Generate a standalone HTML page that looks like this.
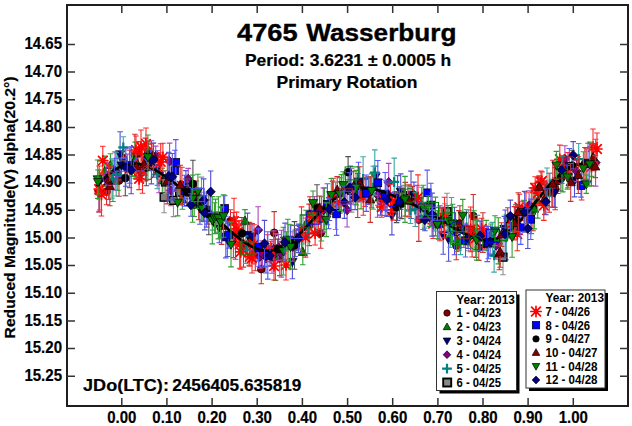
<!DOCTYPE html>
<html><head><meta charset="utf-8"><style>
html,body{margin:0;padding:0;background:#fff;overflow:hidden;}
svg{display:block;}
text{font-family:"Liberation Sans",sans-serif;font-weight:bold;fill:#000;}
</style></head><body>
<svg width="632" height="426" viewBox="0 0 632 426">
<rect width="632" height="426" fill="#fff"/>
<g><path d="M106.6 178.7V204.8M103.8 178.7h5.6M103.8 204.8h5.6" stroke="#d03030" stroke-width="1.1"/>
<circle cx="106.6" cy="191.7" r="3.90" fill="#800000" stroke="#000" stroke-width=".7"/>
<path d="M119.0 164.8V196.3M116.2 164.8h5.6M116.2 196.3h5.6" stroke="#d03030" stroke-width="1.1"/>
<circle cx="119.0" cy="180.5" r="3.90" fill="#800000" stroke="#000" stroke-width=".7"/>
<path d="M122.6 147.6V167.8M119.8 147.6h5.6M119.8 167.8h5.6" stroke="#d03030" stroke-width="1.1"/>
<circle cx="122.6" cy="157.7" r="3.90" fill="#800000" stroke="#000" stroke-width=".7"/>
<path d="M134.9 134.3V175.8M132.1 134.3h5.6M132.1 175.8h5.6" stroke="#d03030" stroke-width="1.1"/>
<circle cx="134.9" cy="155.0" r="3.90" fill="#800000" stroke="#000" stroke-width=".7"/>
<path d="M138.7 141.6V165.0M135.9 141.6h5.6M135.9 165.0h5.6" stroke="#d03030" stroke-width="1.1"/>
<circle cx="138.7" cy="153.3" r="3.90" fill="#800000" stroke="#000" stroke-width=".7"/>
<path d="M141.4 163.3V182.0M138.6 163.3h5.6M138.6 182.0h5.6" stroke="#d03030" stroke-width="1.1"/>
<circle cx="141.4" cy="172.6" r="3.90" fill="#800000" stroke="#000" stroke-width=".7"/>
<path d="M145.4 138.1V181.0M142.6 138.1h5.6M142.6 181.0h5.6" stroke="#d03030" stroke-width="1.1"/>
<circle cx="145.4" cy="159.6" r="3.90" fill="#800000" stroke="#000" stroke-width=".7"/>
<path d="M196.3 181.0V208.3M193.5 181.0h5.6M193.5 208.3h5.6" stroke="#d03030" stroke-width="1.1"/>
<circle cx="196.3" cy="194.7" r="3.90" fill="#800000" stroke="#000" stroke-width=".7"/>
<path d="M198.7 190.9V219.7M195.9 190.9h5.6M195.9 219.7h5.6" stroke="#d03030" stroke-width="1.1"/>
<circle cx="198.7" cy="205.3" r="3.90" fill="#800000" stroke="#000" stroke-width=".7"/>
<path d="M207.6 200.0V224.1M204.8 200.0h5.6M204.8 224.1h5.6" stroke="#d03030" stroke-width="1.1"/>
<circle cx="207.6" cy="212.1" r="3.90" fill="#800000" stroke="#000" stroke-width=".7"/>
<path d="M230.5 209.7V232.8M227.7 209.7h5.6M227.7 232.8h5.6" stroke="#d03030" stroke-width="1.1"/>
<circle cx="230.5" cy="221.2" r="3.90" fill="#800000" stroke="#000" stroke-width=".7"/>
<path d="M243.5 225.0V267.1M240.7 225.0h5.6M240.7 267.1h5.6" stroke="#d03030" stroke-width="1.1"/>
<circle cx="243.5" cy="246.1" r="3.90" fill="#800000" stroke="#000" stroke-width=".7"/>
<path d="M249.1 222.4V265.2M246.3 222.4h5.6M246.3 265.2h5.6" stroke="#d03030" stroke-width="1.1"/>
<circle cx="249.1" cy="243.8" r="3.90" fill="#800000" stroke="#000" stroke-width=".7"/>
<path d="M250.8 223.2V258.4M248.0 223.2h5.6M248.0 258.4h5.6" stroke="#d03030" stroke-width="1.1"/>
<circle cx="250.8" cy="240.8" r="3.90" fill="#800000" stroke="#000" stroke-width=".7"/>
<path d="M255.3 232.6V270.7M252.5 232.6h5.6M252.5 270.7h5.6" stroke="#d03030" stroke-width="1.1"/>
<circle cx="255.3" cy="251.7" r="3.90" fill="#800000" stroke="#000" stroke-width=".7"/>
<path d="M261.3 254.3V283.8M258.5 254.3h5.6M258.5 283.8h5.6" stroke="#d03030" stroke-width="1.1"/>
<circle cx="261.3" cy="269.1" r="3.90" fill="#800000" stroke="#000" stroke-width=".7"/>
<path d="M274.2 211.6V254.1M271.4 211.6h5.6M271.4 254.1h5.6" stroke="#d03030" stroke-width="1.1"/>
<circle cx="274.2" cy="232.8" r="3.90" fill="#800000" stroke="#000" stroke-width=".7"/>
<path d="M279.8 241.2V275.6M277.0 241.2h5.6M277.0 275.6h5.6" stroke="#d03030" stroke-width="1.1"/>
<circle cx="279.8" cy="258.4" r="3.90" fill="#800000" stroke="#000" stroke-width=".7"/>
<path d="M309.2 204.1V245.6M306.4 204.1h5.6M306.4 245.6h5.6" stroke="#d03030" stroke-width="1.1"/>
<circle cx="309.2" cy="224.9" r="3.90" fill="#800000" stroke="#000" stroke-width=".7"/>
<path d="M309.9 196.8V231.0M307.1 196.8h5.6M307.1 231.0h5.6" stroke="#d03030" stroke-width="1.1"/>
<circle cx="309.9" cy="213.9" r="3.90" fill="#800000" stroke="#000" stroke-width=".7"/>
<path d="M320.7 218.0V248.2M317.9 218.0h5.6M317.9 248.2h5.6" stroke="#d03030" stroke-width="1.1"/>
<circle cx="320.7" cy="233.1" r="3.90" fill="#800000" stroke="#000" stroke-width=".7"/>
<path d="M332.6 181.1V210.3M329.8 181.1h5.6M329.8 210.3h5.6" stroke="#d03030" stroke-width="1.1"/>
<circle cx="332.6" cy="195.7" r="3.90" fill="#800000" stroke="#000" stroke-width=".7"/>
<path d="M357.7 173.5V217.5M354.9 173.5h5.6M354.9 217.5h5.6" stroke="#d03030" stroke-width="1.1"/>
<circle cx="357.7" cy="195.5" r="3.90" fill="#800000" stroke="#000" stroke-width=".7"/>
<path d="M412.5 186.4V210.5M409.7 186.4h5.6M409.7 210.5h5.6" stroke="#d03030" stroke-width="1.1"/>
<circle cx="412.5" cy="198.5" r="3.90" fill="#800000" stroke="#000" stroke-width=".7"/>
<path d="M418.8 197.7V241.4M416.0 197.7h5.6M416.0 241.4h5.6" stroke="#d03030" stroke-width="1.1"/>
<circle cx="418.8" cy="219.6" r="3.90" fill="#800000" stroke="#000" stroke-width=".7"/>
<path d="M456.3 231.3V259.7M453.5 231.3h5.6M453.5 259.7h5.6" stroke="#d03030" stroke-width="1.1"/>
<circle cx="456.3" cy="245.5" r="3.90" fill="#800000" stroke="#000" stroke-width=".7"/>
<path d="M458.9 210.6V250.1M456.1 210.6h5.6M456.1 250.1h5.6" stroke="#d03030" stroke-width="1.1"/>
<circle cx="458.9" cy="230.4" r="3.90" fill="#800000" stroke="#000" stroke-width=".7"/>
<path d="M459.9 205.8V241.3M457.1 205.8h5.6M457.1 241.3h5.6" stroke="#d03030" stroke-width="1.1"/>
<circle cx="459.9" cy="223.5" r="3.90" fill="#800000" stroke="#000" stroke-width=".7"/>
<path d="M472.1 212.5V257.0M469.3 212.5h5.6M469.3 257.0h5.6" stroke="#d03030" stroke-width="1.1"/>
<circle cx="472.1" cy="234.7" r="3.90" fill="#800000" stroke="#000" stroke-width=".7"/>
<path d="M473.3 194.5V237.6M470.5 194.5h5.6M470.5 237.6h5.6" stroke="#d03030" stroke-width="1.1"/>
<circle cx="473.3" cy="216.1" r="3.90" fill="#800000" stroke="#000" stroke-width=".7"/>
<path d="M478.8 234.9V260.4M476.0 234.9h5.6M476.0 260.4h5.6" stroke="#d03030" stroke-width="1.1"/>
<circle cx="478.8" cy="247.6" r="3.90" fill="#800000" stroke="#000" stroke-width=".7"/>
<path d="M482.9 212.7V252.5M480.1 212.7h5.6M480.1 252.5h5.6" stroke="#d03030" stroke-width="1.1"/>
<circle cx="482.9" cy="232.6" r="3.90" fill="#800000" stroke="#000" stroke-width=".7"/>
<path d="M507.8 207.7V228.7M505.0 207.7h5.6M505.0 228.7h5.6" stroke="#d03030" stroke-width="1.1"/>
<circle cx="507.8" cy="218.2" r="3.90" fill="#800000" stroke="#000" stroke-width=".7"/>
<path d="M533.0 183.3V230.7M530.2 183.3h5.6M530.2 230.7h5.6" stroke="#d03030" stroke-width="1.1"/>
<circle cx="533.0" cy="207.0" r="3.90" fill="#800000" stroke="#000" stroke-width=".7"/>
<path d="M549.2 173.3V212.3M546.4 173.3h5.6M546.4 212.3h5.6" stroke="#d03030" stroke-width="1.1"/>
<circle cx="549.2" cy="192.8" r="3.90" fill="#800000" stroke="#000" stroke-width=".7"/>
<path d="M551.9 179.2V207.0M549.1 179.2h5.6M549.1 207.0h5.6" stroke="#d03030" stroke-width="1.1"/>
<circle cx="551.9" cy="193.1" r="3.90" fill="#800000" stroke="#000" stroke-width=".7"/>
<path d="M555.2 167.6V209.8M552.4 167.6h5.6M552.4 209.8h5.6" stroke="#d03030" stroke-width="1.1"/>
<circle cx="555.2" cy="188.7" r="3.90" fill="#800000" stroke="#000" stroke-width=".7"/>
<path d="M557.8 168.7V193.5M555.0 168.7h5.6M555.0 193.5h5.6" stroke="#d03030" stroke-width="1.1"/>
<circle cx="557.8" cy="181.1" r="3.90" fill="#800000" stroke="#000" stroke-width=".7"/>
<path d="M581.7 171.0V200.0M578.9 171.0h5.6M578.9 200.0h5.6" stroke="#d03030" stroke-width="1.1"/>
<circle cx="581.7" cy="185.5" r="3.90" fill="#800000" stroke="#000" stroke-width=".7"/>
<path d="M584.9 147.5V179.9M582.1 147.5h5.6M582.1 179.9h5.6" stroke="#d03030" stroke-width="1.1"/>
<circle cx="584.9" cy="163.7" r="3.90" fill="#800000" stroke="#000" stroke-width=".7"/>
<path d="M148.0 142.0V162.0M145.2 142.0h5.6M145.2 162.0h5.6" stroke="#d03030" stroke-width="1.1"/>
<circle cx="148.0" cy="152.0" r="3.90" fill="#800000" stroke="#000" stroke-width=".7"/>
<path d="M104.7 156.1V186.6M101.9 156.1h5.6M101.9 186.6h5.6" stroke="#30a030" stroke-width="1.1"/>
<path d="M104.7 166.6L109.3 174.8H100.1Z" fill="#008000" stroke="#000" stroke-width=".7"/>
<path d="M110.4 153.8V176.4M107.6 153.8h5.6M107.6 176.4h5.6" stroke="#30a030" stroke-width="1.1"/>
<path d="M110.4 160.3L115.0 168.5H105.8Z" fill="#008000" stroke="#000" stroke-width=".7"/>
<path d="M112.9 160.7V201.5M110.1 160.7h5.6M110.1 201.5h5.6" stroke="#30a030" stroke-width="1.1"/>
<path d="M112.9 176.3L117.5 184.5H108.3Z" fill="#008000" stroke="#000" stroke-width=".7"/>
<path d="M117.8 153.1V190.4M115.0 153.1h5.6M115.0 190.4h5.6" stroke="#30a030" stroke-width="1.1"/>
<path d="M117.8 167.0L122.4 175.2H113.2Z" fill="#008000" stroke="#000" stroke-width=".7"/>
<path d="M132.5 151.9V176.5M129.7 151.9h5.6M129.7 176.5h5.6" stroke="#30a030" stroke-width="1.1"/>
<path d="M132.5 159.4L137.1 167.6H127.9Z" fill="#008000" stroke="#000" stroke-width=".7"/>
<path d="M135.2 142.1V178.2M132.4 142.1h5.6M132.4 178.2h5.6" stroke="#30a030" stroke-width="1.1"/>
<path d="M135.2 155.3L139.8 163.5H130.6Z" fill="#008000" stroke="#000" stroke-width=".7"/>
<path d="M162.3 168.3V192.7M159.5 168.3h5.6M159.5 192.7h5.6" stroke="#30a030" stroke-width="1.1"/>
<path d="M162.3 175.7L166.9 183.9H157.7Z" fill="#008000" stroke="#000" stroke-width=".7"/>
<path d="M182.4 190.1V209.3M179.6 190.1h5.6M179.6 209.3h5.6" stroke="#30a030" stroke-width="1.1"/>
<path d="M182.4 194.9L187.0 203.1H177.8Z" fill="#008000" stroke="#000" stroke-width=".7"/>
<path d="M194.2 193.7V216.5M191.4 193.7h5.6M191.4 216.5h5.6" stroke="#30a030" stroke-width="1.1"/>
<path d="M194.2 200.3L198.8 208.5H189.6Z" fill="#008000" stroke="#000" stroke-width=".7"/>
<path d="M245.0 209.6V232.3M242.2 209.6h5.6M242.2 232.3h5.6" stroke="#30a030" stroke-width="1.1"/>
<path d="M245.0 216.1L249.6 224.3H240.4Z" fill="#008000" stroke="#000" stroke-width=".7"/>
<path d="M275.5 233.6V280.4M272.7 233.6h5.6M272.7 280.4h5.6" stroke="#30a030" stroke-width="1.1"/>
<path d="M275.5 252.2L280.1 260.4H270.9Z" fill="#008000" stroke="#000" stroke-width=".7"/>
<path d="M302.8 239.4V264.7M300.0 239.4h5.6M300.0 264.7h5.6" stroke="#30a030" stroke-width="1.1"/>
<path d="M302.8 247.2L307.4 255.4H298.2Z" fill="#008000" stroke="#000" stroke-width=".7"/>
<path d="M306.0 210.2V237.6M303.2 210.2h5.6M303.2 237.6h5.6" stroke="#30a030" stroke-width="1.1"/>
<path d="M306.0 219.1L310.6 227.3H301.4Z" fill="#008000" stroke="#000" stroke-width=".7"/>
<path d="M321.4 196.8V241.0M318.6 196.8h5.6M318.6 241.0h5.6" stroke="#30a030" stroke-width="1.1"/>
<path d="M321.4 214.1L326.0 222.3H316.8Z" fill="#008000" stroke="#000" stroke-width=".7"/>
<path d="M324.4 187.9V229.7M321.6 187.9h5.6M321.6 229.7h5.6" stroke="#30a030" stroke-width="1.1"/>
<path d="M324.4 204.0L329.0 212.2H319.8Z" fill="#008000" stroke="#000" stroke-width=".7"/>
<path d="M341.4 174.6V212.0M338.6 174.6h5.6M338.6 212.0h5.6" stroke="#30a030" stroke-width="1.1"/>
<path d="M341.4 188.5L346.0 196.7H336.8Z" fill="#008000" stroke="#000" stroke-width=".7"/>
<path d="M345.6 173.0V206.9M342.8 173.0h5.6M342.8 206.9h5.6" stroke="#30a030" stroke-width="1.1"/>
<path d="M345.6 185.2L350.2 193.4H341.0Z" fill="#008000" stroke="#000" stroke-width=".7"/>
<path d="M361.1 178.9V208.9M358.3 178.9h5.6M358.3 208.9h5.6" stroke="#30a030" stroke-width="1.1"/>
<path d="M361.1 189.1L365.7 197.3H356.5Z" fill="#008000" stroke="#000" stroke-width=".7"/>
<path d="M368.2 176.9V204.5M365.4 176.9h5.6M365.4 204.5h5.6" stroke="#30a030" stroke-width="1.1"/>
<path d="M368.2 185.9L372.8 194.1H363.6Z" fill="#008000" stroke="#000" stroke-width=".7"/>
<path d="M379.4 184.4V211.0M376.6 184.4h5.6M376.6 211.0h5.6" stroke="#30a030" stroke-width="1.1"/>
<path d="M379.4 192.9L384.0 201.1H374.8Z" fill="#008000" stroke="#000" stroke-width=".7"/>
<path d="M435.5 197.1V235.9M432.7 197.1h5.6M432.7 235.9h5.6" stroke="#30a030" stroke-width="1.1"/>
<path d="M435.5 211.7L440.1 219.9H430.9Z" fill="#008000" stroke="#000" stroke-width=".7"/>
<path d="M456.8 228.1V251.5M454.0 228.1h5.6M454.0 251.5h5.6" stroke="#30a030" stroke-width="1.1"/>
<path d="M456.8 235.0L461.4 243.2H452.2Z" fill="#008000" stroke="#000" stroke-width=".7"/>
<path d="M474.0 210.8V251.2M471.2 210.8h5.6M471.2 251.2h5.6" stroke="#30a030" stroke-width="1.1"/>
<path d="M474.0 226.2L478.6 234.4H469.4Z" fill="#008000" stroke="#000" stroke-width=".7"/>
<path d="M486.2 220.4V250.7M483.4 220.4h5.6M483.4 250.7h5.6" stroke="#30a030" stroke-width="1.1"/>
<path d="M486.2 230.8L490.8 239.0H481.6Z" fill="#008000" stroke="#000" stroke-width=".7"/>
<path d="M490.9 224.0V245.0M488.1 224.0h5.6M488.1 245.0h5.6" stroke="#30a030" stroke-width="1.1"/>
<path d="M490.9 229.7L495.5 237.9H486.3Z" fill="#008000" stroke="#000" stroke-width=".7"/>
<path d="M498.3 217.7V263.9M495.5 217.7h5.6M495.5 263.9h5.6" stroke="#30a030" stroke-width="1.1"/>
<path d="M498.3 236.0L502.9 244.2H493.7Z" fill="#008000" stroke="#000" stroke-width=".7"/>
<path d="M531.3 187.9V233.6M528.5 187.9h5.6M528.5 233.6h5.6" stroke="#30a030" stroke-width="1.1"/>
<path d="M531.3 206.0L535.9 214.2H526.7Z" fill="#008000" stroke="#000" stroke-width=".7"/>
<path d="M534.3 188.7V228.9M531.5 188.7h5.6M531.5 228.9h5.6" stroke="#30a030" stroke-width="1.1"/>
<path d="M534.3 204.0L538.9 212.2H529.7Z" fill="#008000" stroke="#000" stroke-width=".7"/>
<path d="M537.7 183.7V218.1M534.9 183.7h5.6M534.9 218.1h5.6" stroke="#30a030" stroke-width="1.1"/>
<path d="M537.7 196.1L542.3 204.3H533.1Z" fill="#008000" stroke="#000" stroke-width=".7"/>
<path d="M591.6 149.2V176.4M588.8 149.2h5.6M588.8 176.4h5.6" stroke="#30a030" stroke-width="1.1"/>
<path d="M591.6 158.0L596.2 166.2H587.0Z" fill="#008000" stroke="#000" stroke-width=".7"/>
<path d="M120.1 131.7V176.6M117.3 131.7h5.6M117.3 176.6h5.6" stroke="#5050d8" stroke-width="1.1"/>
<path d="M120.1 159.0L124.7 150.8H115.5Z" fill="#000080" stroke="#000" stroke-width=".7"/>
<path d="M121.5 150.7V179.9M118.7 150.7h5.6M118.7 179.9h5.6" stroke="#5050d8" stroke-width="1.1"/>
<path d="M121.5 170.1L126.1 161.9H116.9Z" fill="#000080" stroke="#000" stroke-width=".7"/>
<path d="M150.4 149.3V170.7M147.6 149.3h5.6M147.6 170.7h5.6" stroke="#5050d8" stroke-width="1.1"/>
<path d="M150.4 164.8L155.0 156.6H145.8Z" fill="#000080" stroke="#000" stroke-width=".7"/>
<path d="M151.4 140.8V183.9M148.6 140.8h5.6M148.6 183.9h5.6" stroke="#5050d8" stroke-width="1.1"/>
<path d="M151.4 167.1L156.0 158.9H146.8Z" fill="#000080" stroke="#000" stroke-width=".7"/>
<path d="M157.4 150.7V185.2M154.6 150.7h5.6M154.6 185.2h5.6" stroke="#5050d8" stroke-width="1.1"/>
<path d="M157.4 172.8L162.0 164.6H152.8Z" fill="#000080" stroke="#000" stroke-width=".7"/>
<path d="M185.9 170.6V198.9M183.1 170.6h5.6M183.1 198.9h5.6" stroke="#5050d8" stroke-width="1.1"/>
<path d="M185.9 189.6L190.5 181.4H181.3Z" fill="#000080" stroke="#000" stroke-width=".7"/>
<path d="M199.9 192.3V224.2M197.1 192.3h5.6M197.1 224.2h5.6" stroke="#5050d8" stroke-width="1.1"/>
<path d="M199.9 213.0L204.5 204.8H195.3Z" fill="#000080" stroke="#000" stroke-width=".7"/>
<path d="M219.3 212.2V242.8M216.5 212.2h5.6M216.5 242.8h5.6" stroke="#5050d8" stroke-width="1.1"/>
<path d="M219.3 232.3L223.9 224.1H214.7Z" fill="#000080" stroke="#000" stroke-width=".7"/>
<path d="M227.3 223.2V256.5M224.5 223.2h5.6M224.5 256.5h5.6" stroke="#5050d8" stroke-width="1.1"/>
<path d="M227.3 244.6L231.9 236.4H222.7Z" fill="#000080" stroke="#000" stroke-width=".7"/>
<path d="M235.5 216.9V259.3M232.7 216.9h5.6M232.7 259.3h5.6" stroke="#5050d8" stroke-width="1.1"/>
<path d="M235.5 242.9L240.1 234.7H230.9Z" fill="#000080" stroke="#000" stroke-width=".7"/>
<path d="M247.5 213.1V256.7M244.7 213.1h5.6M244.7 256.7h5.6" stroke="#5050d8" stroke-width="1.1"/>
<path d="M247.5 239.7L252.1 231.5H242.9Z" fill="#000080" stroke="#000" stroke-width=".7"/>
<path d="M252.1 223.6V249.9M249.3 223.6h5.6M249.3 249.9h5.6" stroke="#5050d8" stroke-width="1.1"/>
<path d="M252.1 241.5L256.7 233.3H247.5Z" fill="#000080" stroke="#000" stroke-width=".7"/>
<path d="M257.0 232.0V261.1M254.2 232.0h5.6M254.2 261.1h5.6" stroke="#5050d8" stroke-width="1.1"/>
<path d="M257.0 251.3L261.6 243.1H252.4Z" fill="#000080" stroke="#000" stroke-width=".7"/>
<path d="M266.0 243.2V273.0M263.2 243.2h5.6M263.2 273.0h5.6" stroke="#5050d8" stroke-width="1.1"/>
<path d="M266.0 262.9L270.6 254.7H261.4Z" fill="#000080" stroke="#000" stroke-width=".7"/>
<path d="M292.4 244.7V278.8M289.6 244.7h5.6M289.6 278.8h5.6" stroke="#5050d8" stroke-width="1.1"/>
<path d="M292.4 266.5L297.0 258.3H287.8Z" fill="#000080" stroke="#000" stroke-width=".7"/>
<path d="M296.7 228.9V250.7M293.9 228.9h5.6M293.9 250.7h5.6" stroke="#5050d8" stroke-width="1.1"/>
<path d="M296.7 244.6L301.3 236.4H292.1Z" fill="#000080" stroke="#000" stroke-width=".7"/>
<path d="M299.1 225.3V249.1M296.3 225.3h5.6M296.3 249.1h5.6" stroke="#5050d8" stroke-width="1.1"/>
<path d="M299.1 242.0L303.7 233.8H294.5Z" fill="#000080" stroke="#000" stroke-width=".7"/>
<path d="M328.6 197.6V228.8M325.8 197.6h5.6M325.8 228.8h5.6" stroke="#5050d8" stroke-width="1.1"/>
<path d="M328.6 218.0L333.2 209.8H324.0Z" fill="#000080" stroke="#000" stroke-width=".7"/>
<path d="M369.0 178.0V204.5M366.2 178.0h5.6M366.2 204.5h5.6" stroke="#5050d8" stroke-width="1.1"/>
<path d="M369.0 196.1L373.6 187.9H364.4Z" fill="#000080" stroke="#000" stroke-width=".7"/>
<path d="M375.5 166.1V187.7M372.7 166.1h5.6M372.7 187.7h5.6" stroke="#5050d8" stroke-width="1.1"/>
<path d="M375.5 181.7L380.1 173.5H370.9Z" fill="#000080" stroke="#000" stroke-width=".7"/>
<path d="M380.5 179.2V215.1M377.7 179.2h5.6M377.7 215.1h5.6" stroke="#5050d8" stroke-width="1.1"/>
<path d="M380.5 201.9L385.1 193.7H375.9Z" fill="#000080" stroke="#000" stroke-width=".7"/>
<path d="M391.9 196.2V234.9M389.1 196.2h5.6M389.1 234.9h5.6" stroke="#5050d8" stroke-width="1.1"/>
<path d="M391.9 220.4L396.5 212.2H387.3Z" fill="#000080" stroke="#000" stroke-width=".7"/>
<path d="M397.6 175.6V220.5M394.8 175.6h5.6M394.8 220.5h5.6" stroke="#5050d8" stroke-width="1.1"/>
<path d="M397.6 202.9L402.2 194.7H393.0Z" fill="#000080" stroke="#000" stroke-width=".7"/>
<path d="M400.7 173.9V209.4M397.9 173.9h5.6M397.9 209.4h5.6" stroke="#5050d8" stroke-width="1.1"/>
<path d="M400.7 196.4L405.3 188.2H396.1Z" fill="#000080" stroke="#000" stroke-width=".7"/>
<path d="M411.0 171.1V218.5M408.2 171.1h5.6M408.2 218.5h5.6" stroke="#5050d8" stroke-width="1.1"/>
<path d="M411.0 199.6L415.6 191.4H406.4Z" fill="#000080" stroke="#000" stroke-width=".7"/>
<path d="M413.9 182.1V209.1M411.1 182.1h5.6M411.1 209.1h5.6" stroke="#5050d8" stroke-width="1.1"/>
<path d="M413.9 200.4L418.5 192.2H409.3Z" fill="#000080" stroke="#000" stroke-width=".7"/>
<path d="M420.8 198.1V217.9M418.0 198.1h5.6M418.0 217.9h5.6" stroke="#5050d8" stroke-width="1.1"/>
<path d="M420.8 212.8L425.4 204.6H416.2Z" fill="#000080" stroke="#000" stroke-width=".7"/>
<path d="M443.2 216.1V254.2M440.4 216.1h5.6M440.4 254.2h5.6" stroke="#5050d8" stroke-width="1.1"/>
<path d="M443.2 239.9L447.8 231.7H438.6Z" fill="#000080" stroke="#000" stroke-width=".7"/>
<path d="M448.6 217.5V261.2M445.8 217.5h5.6M445.8 261.2h5.6" stroke="#5050d8" stroke-width="1.1"/>
<path d="M448.6 244.1L453.2 235.9H444.0Z" fill="#000080" stroke="#000" stroke-width=".7"/>
<path d="M454.5 207.2V254.8M451.7 207.2h5.6M451.7 254.8h5.6" stroke="#5050d8" stroke-width="1.1"/>
<path d="M454.5 235.8L459.1 227.6H449.9Z" fill="#000080" stroke="#000" stroke-width=".7"/>
<path d="M504.4 216.4V241.1M501.6 216.4h5.6M501.6 241.1h5.6" stroke="#5050d8" stroke-width="1.1"/>
<path d="M504.4 233.5L509.0 225.3H499.8Z" fill="#000080" stroke="#000" stroke-width=".7"/>
<path d="M554.7 177.7V207.4M551.9 177.7h5.6M551.9 207.4h5.6" stroke="#5050d8" stroke-width="1.1"/>
<path d="M554.7 197.3L559.3 189.1H550.1Z" fill="#000080" stroke="#000" stroke-width=".7"/>
<path d="M566.6 156.8V175.6M563.8 156.8h5.6M563.8 175.6h5.6" stroke="#5050d8" stroke-width="1.1"/>
<path d="M566.6 171.0L571.2 162.8H562.0Z" fill="#000080" stroke="#000" stroke-width=".7"/>
<path d="M574.5 163.9V196.9M571.7 163.9h5.6M571.7 196.9h5.6" stroke="#5050d8" stroke-width="1.1"/>
<path d="M574.5 185.2L579.1 177.0H569.9Z" fill="#000080" stroke="#000" stroke-width=".7"/>
<path d="M99.0 176.0V212.0M96.2 176.0h5.6M96.2 212.0h5.6" stroke="#5050d8" stroke-width="1.1"/>
<path d="M99.0 198.8L103.6 190.6H94.4Z" fill="#000080" stroke="#000" stroke-width=".7"/>
<path d="M106.1 162.6V195.0M103.3 162.6h5.6M103.3 195.0h5.6" stroke="#b048c0" stroke-width="1.1"/>
<path d="M106.1 174.0L110.7 178.8L106.1 183.6L101.5 178.8Z" fill="#800080" stroke="#000" stroke-width=".7"/>
<path d="M115.1 151.9V190.2M112.3 151.9h5.6M112.3 190.2h5.6" stroke="#b048c0" stroke-width="1.1"/>
<path d="M115.1 166.3L119.7 171.1L115.1 175.9L110.5 171.1Z" fill="#800080" stroke="#000" stroke-width=".7"/>
<path d="M127.3 154.1V179.3M124.5 154.1h5.6M124.5 179.3h5.6" stroke="#b048c0" stroke-width="1.1"/>
<path d="M127.3 161.9L131.9 166.7L127.3 171.5L122.7 166.7Z" fill="#800080" stroke="#000" stroke-width=".7"/>
<path d="M155.7 146.1V166.4M152.9 146.1h5.6M152.9 166.4h5.6" stroke="#b048c0" stroke-width="1.1"/>
<path d="M155.7 151.5L160.3 156.3L155.7 161.1L151.1 156.3Z" fill="#800080" stroke="#000" stroke-width=".7"/>
<path d="M159.0 152.7V192.7M156.2 152.7h5.6M156.2 192.7h5.6" stroke="#b048c0" stroke-width="1.1"/>
<path d="M159.0 167.9L163.6 172.7L159.0 177.5L154.4 172.7Z" fill="#800080" stroke="#000" stroke-width=".7"/>
<path d="M169.6 143.1V179.5M166.8 143.1h5.6M166.8 179.5h5.6" stroke="#b048c0" stroke-width="1.1"/>
<path d="M169.6 156.5L174.2 161.3L169.6 166.1L165.0 161.3Z" fill="#800080" stroke="#000" stroke-width=".7"/>
<path d="M170.9 175.2V205.8M168.1 175.2h5.6M168.1 205.8h5.6" stroke="#b048c0" stroke-width="1.1"/>
<path d="M170.9 185.7L175.5 190.5L170.9 195.3L166.3 190.5Z" fill="#800080" stroke="#000" stroke-width=".7"/>
<path d="M188.2 168.4V189.5M185.4 168.4h5.6M185.4 189.5h5.6" stroke="#b048c0" stroke-width="1.1"/>
<path d="M188.2 174.2L192.8 179.0L188.2 183.8L183.6 179.0Z" fill="#800080" stroke="#000" stroke-width=".7"/>
<path d="M258.1 206.7V253.5M255.3 206.7h5.6M255.3 253.5h5.6" stroke="#b048c0" stroke-width="1.1"/>
<path d="M258.1 225.3L262.7 230.1L258.1 234.9L253.5 230.1Z" fill="#800080" stroke="#000" stroke-width=".7"/>
<path d="M259.9 244.8V268.2M257.1 244.8h5.6M257.1 268.2h5.6" stroke="#b048c0" stroke-width="1.1"/>
<path d="M259.9 251.7L264.5 256.5L259.9 261.3L255.3 256.5Z" fill="#800080" stroke="#000" stroke-width=".7"/>
<path d="M262.5 240.9V267.0M259.7 240.9h5.6M259.7 267.0h5.6" stroke="#b048c0" stroke-width="1.1"/>
<path d="M262.5 249.2L267.1 254.0L262.5 258.8L257.9 254.0Z" fill="#800080" stroke="#000" stroke-width=".7"/>
<path d="M272.0 239.5V273.3M269.2 239.5h5.6M269.2 273.3h5.6" stroke="#b048c0" stroke-width="1.1"/>
<path d="M272.0 251.6L276.6 256.4L272.0 261.2L267.4 256.4Z" fill="#800080" stroke="#000" stroke-width=".7"/>
<path d="M273.7 230.9V267.8M270.9 230.9h5.6M270.9 267.8h5.6" stroke="#b048c0" stroke-width="1.1"/>
<path d="M273.7 244.5L278.3 249.3L273.7 254.1L269.1 249.3Z" fill="#800080" stroke="#000" stroke-width=".7"/>
<path d="M278.4 234.5V260.6M275.6 234.5h5.6M275.6 260.6h5.6" stroke="#b048c0" stroke-width="1.1"/>
<path d="M278.4 242.8L283.0 247.6L278.4 252.4L273.8 247.6Z" fill="#800080" stroke="#000" stroke-width=".7"/>
<path d="M281.4 230.3V277.1M278.6 230.3h5.6M278.6 277.1h5.6" stroke="#b048c0" stroke-width="1.1"/>
<path d="M281.4 248.9L286.0 253.7L281.4 258.5L276.8 253.7Z" fill="#800080" stroke="#000" stroke-width=".7"/>
<path d="M292.9 231.8V261.3M290.1 231.8h5.6M290.1 261.3h5.6" stroke="#b048c0" stroke-width="1.1"/>
<path d="M292.9 241.8L297.5 246.6L292.9 251.4L288.3 246.6Z" fill="#800080" stroke="#000" stroke-width=".7"/>
<path d="M314.5 196.5V232.3M311.7 196.5h5.6M311.7 232.3h5.6" stroke="#b048c0" stroke-width="1.1"/>
<path d="M314.5 209.6L319.1 214.4L314.5 219.2L309.9 214.4Z" fill="#800080" stroke="#000" stroke-width=".7"/>
<path d="M323.3 188.0V232.1M320.5 188.0h5.6M320.5 232.1h5.6" stroke="#b048c0" stroke-width="1.1"/>
<path d="M323.3 205.2L327.9 210.0L323.3 214.8L318.7 210.0Z" fill="#800080" stroke="#000" stroke-width=".7"/>
<path d="M347.1 193.1V227.0M344.3 193.1h5.6M344.3 227.0h5.6" stroke="#b048c0" stroke-width="1.1"/>
<path d="M347.1 205.2L351.7 210.0L347.1 214.8L342.5 210.0Z" fill="#800080" stroke="#000" stroke-width=".7"/>
<path d="M377.5 172.8V217.2M374.7 172.8h5.6M374.7 217.2h5.6" stroke="#b048c0" stroke-width="1.1"/>
<path d="M377.5 190.2L382.1 195.0L377.5 199.8L372.9 195.0Z" fill="#800080" stroke="#000" stroke-width=".7"/>
<path d="M388.7 163.4V201.2M385.9 163.4h5.6M385.9 201.2h5.6" stroke="#b048c0" stroke-width="1.1"/>
<path d="M388.7 177.5L393.3 182.3L388.7 187.1L384.1 182.3Z" fill="#800080" stroke="#000" stroke-width=".7"/>
<path d="M417.0 185.4V222.0M414.2 185.4h5.6M414.2 222.0h5.6" stroke="#b048c0" stroke-width="1.1"/>
<path d="M417.0 198.9L421.6 203.7L417.0 208.5L412.4 203.7Z" fill="#800080" stroke="#000" stroke-width=".7"/>
<path d="M463.8 213.2V247.4M461.0 213.2h5.6M461.0 247.4h5.6" stroke="#b048c0" stroke-width="1.1"/>
<path d="M463.8 225.5L468.4 230.3L463.8 235.1L459.2 230.3Z" fill="#800080" stroke="#000" stroke-width=".7"/>
<path d="M496.0 231.6V259.1M493.2 231.6h5.6M493.2 259.1h5.6" stroke="#b048c0" stroke-width="1.1"/>
<path d="M496.0 240.6L500.6 245.4L496.0 250.2L491.4 245.4Z" fill="#800080" stroke="#000" stroke-width=".7"/>
<path d="M529.1 190.7V219.9M526.3 190.7h5.6M526.3 219.9h5.6" stroke="#b048c0" stroke-width="1.1"/>
<path d="M529.1 200.5L533.7 205.3L529.1 210.1L524.5 205.3Z" fill="#800080" stroke="#000" stroke-width=".7"/>
<path d="M564.9 145.8V172.5M562.1 145.8h5.6M562.1 172.5h5.6" stroke="#b048c0" stroke-width="1.1"/>
<path d="M564.9 154.3L569.5 159.1L564.9 163.9L560.3 159.1Z" fill="#800080" stroke="#000" stroke-width=".7"/>
<path d="M576.6 160.6V181.6M573.8 160.6h5.6M573.8 181.6h5.6" stroke="#b048c0" stroke-width="1.1"/>
<path d="M576.6 166.3L581.2 171.1L576.6 175.9L572.0 171.1Z" fill="#800080" stroke="#000" stroke-width=".7"/>
<path d="M595.6 139.2V186.1M592.8 139.2h5.6M592.8 186.1h5.6" stroke="#b048c0" stroke-width="1.1"/>
<path d="M595.6 157.8L600.2 162.6L595.6 167.4L591.0 162.6Z" fill="#800080" stroke="#000" stroke-width=".7"/>
<path d="M112.0 158.9V198.2M109.2 158.9h5.6M109.2 198.2h5.6" stroke="#38a8a8" stroke-width="1.1"/>
<path d="M107.0 178.5H117.0M112.0 173.5V183.5" stroke="#008080" stroke-width="2.2"/>
<path d="M116.2 152.7V196.0M113.4 152.7h5.6M113.4 196.0h5.6" stroke="#38a8a8" stroke-width="1.1"/>
<path d="M111.2 174.3H121.2M116.2 169.3V179.3" stroke="#008080" stroke-width="2.2"/>
<path d="M123.3 136.8V157.9M120.5 136.8h5.6M120.5 157.9h5.6" stroke="#38a8a8" stroke-width="1.1"/>
<path d="M118.3 147.4H128.3M123.3 142.4V152.4" stroke="#008080" stroke-width="2.2"/>
<path d="M157.2 160.4V188.7M154.4 160.4h5.6M154.4 188.7h5.6" stroke="#38a8a8" stroke-width="1.1"/>
<path d="M152.2 174.5H162.2M157.2 169.5V179.5" stroke="#008080" stroke-width="2.2"/>
<path d="M212.8 211.7V230.1M210.0 211.7h5.6M210.0 230.1h5.6" stroke="#38a8a8" stroke-width="1.1"/>
<path d="M207.8 220.9H217.8M212.8 215.9V225.9" stroke="#008080" stroke-width="2.2"/>
<path d="M245.7 236.0V263.4M242.9 236.0h5.6M242.9 263.4h5.6" stroke="#38a8a8" stroke-width="1.1"/>
<path d="M240.7 249.7H250.7M245.7 244.7V254.7" stroke="#008080" stroke-width="2.2"/>
<path d="M303.1 215.4V244.0M300.3 215.4h5.6M300.3 244.0h5.6" stroke="#38a8a8" stroke-width="1.1"/>
<path d="M298.1 229.7H308.1M303.1 224.7V234.7" stroke="#008080" stroke-width="2.2"/>
<path d="M307.9 213.1V253.6M305.1 213.1h5.6M305.1 253.6h5.6" stroke="#38a8a8" stroke-width="1.1"/>
<path d="M302.9 233.4H312.9M307.9 228.4V238.4" stroke="#008080" stroke-width="2.2"/>
<path d="M363.1 156.8V201.1M360.3 156.8h5.6M360.3 201.1h5.6" stroke="#38a8a8" stroke-width="1.1"/>
<path d="M358.1 179.0H368.1M363.1 174.0V184.0" stroke="#008080" stroke-width="2.2"/>
<path d="M373.2 166.2V209.3M370.4 166.2h5.6M370.4 209.3h5.6" stroke="#38a8a8" stroke-width="1.1"/>
<path d="M368.2 187.8H378.2M373.2 182.8V192.8" stroke="#008080" stroke-width="2.2"/>
<path d="M374.8 149.9V195.3M372.0 149.9h5.6M372.0 195.3h5.6" stroke="#38a8a8" stroke-width="1.1"/>
<path d="M369.8 172.6H379.8M374.8 167.6V177.6" stroke="#008080" stroke-width="2.2"/>
<path d="M394.2 158.1V205.8M391.4 158.1h5.6M391.4 205.8h5.6" stroke="#38a8a8" stroke-width="1.1"/>
<path d="M389.2 181.9H399.2M394.2 176.9V186.9" stroke="#008080" stroke-width="2.2"/>
<path d="M410.4 197.0V223.5M407.6 197.0h5.6M407.6 223.5h5.6" stroke="#38a8a8" stroke-width="1.1"/>
<path d="M405.4 210.3H415.4M410.4 205.3V215.3" stroke="#008080" stroke-width="2.2"/>
<path d="M415.3 192.5V226.5M412.5 192.5h5.6M412.5 226.5h5.6" stroke="#38a8a8" stroke-width="1.1"/>
<path d="M410.3 209.5H420.3M415.3 204.5V214.5" stroke="#008080" stroke-width="2.2"/>
<path d="M421.6 187.3V218.3M418.8 187.3h5.6M418.8 218.3h5.6" stroke="#38a8a8" stroke-width="1.1"/>
<path d="M416.6 202.8H426.6M421.6 197.8V207.8" stroke="#008080" stroke-width="2.2"/>
<path d="M424.6 203.6V228.1M421.8 203.6h5.6M421.8 228.1h5.6" stroke="#38a8a8" stroke-width="1.1"/>
<path d="M419.6 215.9H429.6M424.6 210.9V220.9" stroke="#008080" stroke-width="2.2"/>
<path d="M434.8 207.7V231.0M432.0 207.7h5.6M432.0 231.0h5.6" stroke="#38a8a8" stroke-width="1.1"/>
<path d="M429.8 219.3H439.8M434.8 214.3V224.3" stroke="#008080" stroke-width="2.2"/>
<path d="M450.3 214.6V247.4M447.5 214.6h5.6M447.5 247.4h5.6" stroke="#38a8a8" stroke-width="1.1"/>
<path d="M445.3 231.0H455.3M450.3 226.0V236.0" stroke="#008080" stroke-width="2.2"/>
<path d="M451.5 197.5V242.5M448.7 197.5h5.6M448.7 242.5h5.6" stroke="#38a8a8" stroke-width="1.1"/>
<path d="M446.5 220.0H456.5M451.5 215.0V225.0" stroke="#008080" stroke-width="2.2"/>
<path d="M460.5 233.4V254.6M457.7 233.4h5.6M457.7 254.6h5.6" stroke="#38a8a8" stroke-width="1.1"/>
<path d="M455.5 244.0H465.5M460.5 239.0V249.0" stroke="#008080" stroke-width="2.2"/>
<path d="M466.5 209.6V245.1M463.7 209.6h5.6M463.7 245.1h5.6" stroke="#38a8a8" stroke-width="1.1"/>
<path d="M461.5 227.4H471.5M466.5 222.4V232.4" stroke="#008080" stroke-width="2.2"/>
<path d="M477.5 215.4V250.5M474.7 215.4h5.6M474.7 250.5h5.6" stroke="#38a8a8" stroke-width="1.1"/>
<path d="M472.5 232.9H482.5M477.5 227.9V237.9" stroke="#008080" stroke-width="2.2"/>
<path d="M492.4 222.4V256.6M489.6 222.4h5.6M489.6 256.6h5.6" stroke="#38a8a8" stroke-width="1.1"/>
<path d="M487.4 239.5H497.4M492.4 234.5V244.5" stroke="#008080" stroke-width="2.2"/>
<path d="M494.1 238.6V272.1M491.3 238.6h5.6M491.3 272.1h5.6" stroke="#38a8a8" stroke-width="1.1"/>
<path d="M489.1 255.3H499.1M494.1 250.3V260.3" stroke="#008080" stroke-width="2.2"/>
<path d="M506.3 214.7V259.7M503.5 214.7h5.6M503.5 259.7h5.6" stroke="#38a8a8" stroke-width="1.1"/>
<path d="M501.3 237.2H511.3M506.3 232.2V242.2" stroke="#008080" stroke-width="2.2"/>
<path d="M547.0 168.0V207.1M544.2 168.0h5.6M544.2 207.1h5.6" stroke="#38a8a8" stroke-width="1.1"/>
<path d="M542.0 187.5H552.0M547.0 182.5V192.5" stroke="#008080" stroke-width="2.2"/>
<path d="M549.9 173.2V196.3M547.1 173.2h5.6M547.1 196.3h5.6" stroke="#38a8a8" stroke-width="1.1"/>
<path d="M544.9 184.7H554.9M549.9 179.7V189.7" stroke="#008080" stroke-width="2.2"/>
<path d="M578.7 143.5V174.7M575.9 143.5h5.6M575.9 174.7h5.6" stroke="#38a8a8" stroke-width="1.1"/>
<path d="M573.7 159.1H583.7M578.7 154.1V164.1" stroke="#008080" stroke-width="2.2"/>
<path d="M164.1 181.7V212.7M161.3 181.7h5.6M161.3 212.7h5.6" stroke="#909090" stroke-width="1.1"/>
<rect x="160.2" y="193.3" width="7.8" height="7.8" fill="#808080" stroke="#000" stroke-width="1.4"/>
<path d="M165.5 170.5V193.5M162.7 170.5h5.6M162.7 193.5h5.6" stroke="#909090" stroke-width="1.1"/>
<rect x="161.6" y="178.1" width="7.8" height="7.8" fill="#808080" stroke="#000" stroke-width="1.4"/>
<path d="M173.5 184.1V216.6M170.7 184.1h5.6M170.7 216.6h5.6" stroke="#909090" stroke-width="1.1"/>
<rect x="169.6" y="196.5" width="7.8" height="7.8" fill="#808080" stroke="#000" stroke-width="1.4"/>
<path d="M179.6 181.8V202.7M176.8 181.8h5.6M176.8 202.7h5.6" stroke="#909090" stroke-width="1.1"/>
<rect x="175.7" y="188.3" width="7.8" height="7.8" fill="#808080" stroke="#000" stroke-width="1.4"/>
<path d="M201.5 177.1V221.7M198.7 177.1h5.6M198.7 221.7h5.6" stroke="#909090" stroke-width="1.1"/>
<rect x="197.6" y="195.5" width="7.8" height="7.8" fill="#808080" stroke="#000" stroke-width="1.4"/>
<path d="M217.5 211.6V232.4M214.7 211.6h5.6M214.7 232.4h5.6" stroke="#909090" stroke-width="1.1"/>
<rect x="213.6" y="218.1" width="7.8" height="7.8" fill="#808080" stroke="#000" stroke-width="1.4"/>
<path d="M288.8 224.2V266.9M286.0 224.2h5.6M286.0 266.9h5.6" stroke="#909090" stroke-width="1.1"/>
<rect x="284.9" y="241.6" width="7.8" height="7.8" fill="#808080" stroke="#000" stroke-width="1.4"/>
<path d="M335.6 182.1V229.5M332.8 182.1h5.6M332.8 229.5h5.6" stroke="#909090" stroke-width="1.1"/>
<rect x="331.7" y="201.9" width="7.8" height="7.8" fill="#808080" stroke="#000" stroke-width="1.4"/>
<path d="M351.6 168.5V212.1M348.8 168.5h5.6M348.8 212.1h5.6" stroke="#909090" stroke-width="1.1"/>
<rect x="347.7" y="186.4" width="7.8" height="7.8" fill="#808080" stroke="#000" stroke-width="1.4"/>
<path d="M403.0 185.4V206.1M400.2 185.4h5.6M400.2 206.1h5.6" stroke="#909090" stroke-width="1.1"/>
<rect x="399.1" y="191.9" width="7.8" height="7.8" fill="#808080" stroke="#000" stroke-width="1.4"/>
<path d="M407.6 186.1V211.0M404.8 186.1h5.6M404.8 211.0h5.6" stroke="#909090" stroke-width="1.1"/>
<rect x="403.7" y="194.6" width="7.8" height="7.8" fill="#808080" stroke="#000" stroke-width="1.4"/>
<path d="M444.8 203.7V233.5M442.0 203.7h5.6M442.0 233.5h5.6" stroke="#909090" stroke-width="1.1"/>
<rect x="440.9" y="214.7" width="7.8" height="7.8" fill="#808080" stroke="#000" stroke-width="1.4"/>
<path d="M447.0 193.3V230.1M444.2 193.3h5.6M444.2 230.1h5.6" stroke="#909090" stroke-width="1.1"/>
<rect x="443.1" y="207.8" width="7.8" height="7.8" fill="#808080" stroke="#000" stroke-width="1.4"/>
<path d="M468.7 209.9V250.8M465.9 209.9h5.6M465.9 250.8h5.6" stroke="#909090" stroke-width="1.1"/>
<rect x="464.8" y="226.5" width="7.8" height="7.8" fill="#808080" stroke="#000" stroke-width="1.4"/>
<path d="M503.0 239.6V274.7M500.2 239.6h5.6M500.2 274.7h5.6" stroke="#909090" stroke-width="1.1"/>
<rect x="499.1" y="253.3" width="7.8" height="7.8" fill="#808080" stroke="#000" stroke-width="1.4"/>
<path d="M509.9 214.0V238.8M507.1 214.0h5.6M507.1 238.8h5.6" stroke="#909090" stroke-width="1.1"/>
<rect x="506.0" y="222.5" width="7.8" height="7.8" fill="#808080" stroke="#000" stroke-width="1.4"/>
<path d="M99.2 166.0V211.9M96.4 166.0h5.6M96.4 211.9h5.6" stroke="#ff2828" stroke-width="1.1"/>
<path d="M94.2 189.0H104.2M99.2 184.0V194.0M94.9 184.7L103.5 193.3M94.9 193.3L103.5 184.7" stroke="#ff0000" stroke-width="1.70" stroke-linecap="round"/>
<path d="M99.7 170.0V210.0M96.9 170.0h5.6M96.9 210.0h5.6" stroke="#ff2828" stroke-width="1.1"/>
<path d="M94.7 190.0H104.7M99.7 185.0V195.0M95.4 185.7L104.0 194.3M95.4 194.3L104.0 185.7" stroke="#ff0000" stroke-width="1.70" stroke-linecap="round"/>
<path d="M101.5 172.9V216.0M98.7 172.9h5.6M98.7 216.0h5.6" stroke="#ff2828" stroke-width="1.1"/>
<path d="M96.5 194.5H106.5M101.5 189.5V199.5M97.2 190.2L105.8 198.8M97.2 198.8L105.8 190.2" stroke="#ff0000" stroke-width="1.70" stroke-linecap="round"/>
<path d="M102.8 146.3V175.1M100.0 146.3h5.6M100.0 175.1h5.6" stroke="#ff2828" stroke-width="1.1"/>
<path d="M97.8 160.7H107.8M102.8 155.7V165.7M98.5 156.4L107.1 165.0M98.5 165.0L107.1 156.4" stroke="#ff0000" stroke-width="1.70" stroke-linecap="round"/>
<path d="M129.5 150.2V187.6M126.7 150.2h5.6M126.7 187.6h5.6" stroke="#ff2828" stroke-width="1.1"/>
<path d="M124.5 168.9H134.5M129.5 163.9V173.9M125.2 164.6L133.8 173.2M125.2 173.2L133.8 164.6" stroke="#ff0000" stroke-width="1.70" stroke-linecap="round"/>
<path d="M139.1 168.3V189.6M136.3 168.3h5.6M136.3 189.6h5.6" stroke="#ff2828" stroke-width="1.1"/>
<path d="M134.1 178.9H144.1M139.1 173.9V183.9M134.8 174.6L143.4 183.2M134.8 183.2L143.4 174.6" stroke="#ff0000" stroke-width="1.70" stroke-linecap="round"/>
<path d="M142.5 148.4V193.2M139.7 148.4h5.6M139.7 193.2h5.6" stroke="#ff2828" stroke-width="1.1"/>
<path d="M137.5 170.8H147.5M142.5 165.8V175.8M138.2 166.5L146.8 175.1M138.2 175.1L146.8 166.5" stroke="#ff0000" stroke-width="1.70" stroke-linecap="round"/>
<path d="M160.7 143.8V180.0M157.9 143.8h5.6M157.9 180.0h5.6" stroke="#ff2828" stroke-width="1.1"/>
<path d="M155.7 161.9H165.7M160.7 156.9V166.9M156.4 157.6L165.0 166.2M156.4 166.2L165.0 157.6" stroke="#ff0000" stroke-width="1.70" stroke-linecap="round"/>
<path d="M162.9 143.2V171.3M160.1 143.2h5.6M160.1 171.3h5.6" stroke="#ff2828" stroke-width="1.1"/>
<path d="M157.9 157.2H167.9M162.9 152.2V162.2M158.6 152.9L167.2 161.5M158.6 161.5L167.2 152.9" stroke="#ff0000" stroke-width="1.70" stroke-linecap="round"/>
<path d="M181.9 167.2V204.4M179.1 167.2h5.6M179.1 204.4h5.6" stroke="#ff2828" stroke-width="1.1"/>
<path d="M176.9 185.8H186.9M181.9 180.8V190.8M177.6 181.5L186.2 190.1M177.6 190.1L186.2 181.5" stroke="#ff0000" stroke-width="1.70" stroke-linecap="round"/>
<path d="M233.4 212.5V257.6M230.6 212.5h5.6M230.6 257.6h5.6" stroke="#ff2828" stroke-width="1.1"/>
<path d="M228.4 235.1H238.4M233.4 230.1V240.1M229.1 230.8L237.7 239.4M229.1 239.4L237.7 230.8" stroke="#ff0000" stroke-width="1.70" stroke-linecap="round"/>
<path d="M234.0 198.2V244.1M231.2 198.2h5.6M231.2 244.1h5.6" stroke="#ff2828" stroke-width="1.1"/>
<path d="M229.0 221.2H239.0M234.0 216.2V226.2M229.7 216.9L238.3 225.5M229.7 225.5L238.3 216.9" stroke="#ff0000" stroke-width="1.70" stroke-linecap="round"/>
<path d="M236.6 212.1V245.7M233.8 212.1h5.6M233.8 245.7h5.6" stroke="#ff2828" stroke-width="1.1"/>
<path d="M231.6 228.9H241.6M236.6 223.9V233.9M232.3 224.6L240.9 233.2M232.3 233.2L240.9 224.6" stroke="#ff0000" stroke-width="1.70" stroke-linecap="round"/>
<path d="M238.4 220.6V243.7M235.6 220.6h5.6M235.6 243.7h5.6" stroke="#ff2828" stroke-width="1.1"/>
<path d="M233.4 232.2H243.4M238.4 227.2V237.2M234.1 227.9L242.7 236.5M234.1 236.5L242.7 227.9" stroke="#ff0000" stroke-width="1.70" stroke-linecap="round"/>
<path d="M239.7 220.5V268.2M236.9 220.5h5.6M236.9 268.2h5.6" stroke="#ff2828" stroke-width="1.1"/>
<path d="M234.7 244.3H244.7M239.7 239.3V249.3M235.4 240.0L244.0 248.6M235.4 248.6L244.0 240.0" stroke="#ff0000" stroke-width="1.70" stroke-linecap="round"/>
<path d="M240.7 234.7V269.1M237.9 234.7h5.6M237.9 269.1h5.6" stroke="#ff2828" stroke-width="1.1"/>
<path d="M235.7 251.9H245.7M240.7 246.9V256.9M236.4 247.6L245.0 256.2M236.4 256.2L245.0 247.6" stroke="#ff0000" stroke-width="1.70" stroke-linecap="round"/>
<path d="M249.8 247.2V266.1M247.0 247.2h5.6M247.0 266.1h5.6" stroke="#ff2828" stroke-width="1.1"/>
<path d="M244.8 256.7H254.8M249.8 251.7V261.7M245.5 252.4L254.1 261.0M245.5 261.0L254.1 252.4" stroke="#ff0000" stroke-width="1.70" stroke-linecap="round"/>
<path d="M254.0 224.7V264.0M251.2 224.7h5.6M251.2 264.0h5.6" stroke="#ff2828" stroke-width="1.1"/>
<path d="M249.0 244.4H259.0M254.0 239.4V249.4M249.7 240.1L258.3 248.7M249.7 248.7L258.3 240.1" stroke="#ff0000" stroke-width="1.70" stroke-linecap="round"/>
<path d="M267.4 234.8V261.2M264.6 234.8h5.6M264.6 261.2h5.6" stroke="#ff2828" stroke-width="1.1"/>
<path d="M262.4 248.0H272.4M267.4 243.0V253.0M263.1 243.7L271.7 252.3M263.1 252.3L271.7 243.7" stroke="#ff0000" stroke-width="1.70" stroke-linecap="round"/>
<path d="M270.5 241.2V261.6M267.7 241.2h5.6M267.7 261.6h5.6" stroke="#ff2828" stroke-width="1.1"/>
<path d="M265.5 251.4H275.5M270.5 246.4V256.4M266.2 247.1L274.8 255.7M266.2 255.7L274.8 247.1" stroke="#ff0000" stroke-width="1.70" stroke-linecap="round"/>
<path d="M301.5 206.9V253.1M298.7 206.9h5.6M298.7 253.1h5.6" stroke="#ff2828" stroke-width="1.1"/>
<path d="M296.5 230.0H306.5M301.5 225.0V235.0M297.2 225.7L305.8 234.3M297.2 234.3L305.8 225.7" stroke="#ff0000" stroke-width="1.70" stroke-linecap="round"/>
<path d="M305.5 218.0V257.1M302.7 218.0h5.6M302.7 257.1h5.6" stroke="#ff2828" stroke-width="1.1"/>
<path d="M300.5 237.6H310.5M305.5 232.6V242.6M301.2 233.3L309.8 241.9M301.2 241.9L309.8 233.3" stroke="#ff0000" stroke-width="1.70" stroke-linecap="round"/>
<path d="M311.7 201.2V232.5M308.9 201.2h5.6M308.9 232.5h5.6" stroke="#ff2828" stroke-width="1.1"/>
<path d="M306.7 216.8H316.7M311.7 211.8V221.8M307.4 212.5L316.0 221.1M307.4 221.1L316.0 212.5" stroke="#ff0000" stroke-width="1.70" stroke-linecap="round"/>
<path d="M315.1 221.7V245.0M312.3 221.7h5.6M312.3 245.0h5.6" stroke="#ff2828" stroke-width="1.1"/>
<path d="M310.1 233.3H320.1M315.1 228.3V238.3M310.8 229.0L319.4 237.6M310.8 237.6L319.4 229.0" stroke="#ff0000" stroke-width="1.70" stroke-linecap="round"/>
<path d="M318.6 203.6V229.6M315.8 203.6h5.6M315.8 229.6h5.6" stroke="#ff2828" stroke-width="1.1"/>
<path d="M313.6 216.6H323.6M318.6 211.6V221.6M314.3 212.3L322.9 220.9M314.3 220.9L322.9 212.3" stroke="#ff0000" stroke-width="1.70" stroke-linecap="round"/>
<path d="M333.3 178.3V214.3M330.5 178.3h5.6M330.5 214.3h5.6" stroke="#ff2828" stroke-width="1.1"/>
<path d="M328.3 196.3H338.3M333.3 191.3V201.3M329.0 192.0L337.6 200.6M329.0 200.6L337.6 192.0" stroke="#ff0000" stroke-width="1.70" stroke-linecap="round"/>
<path d="M339.6 191.6V213.3M336.8 191.6h5.6M336.8 213.3h5.6" stroke="#ff2828" stroke-width="1.1"/>
<path d="M334.6 202.4H344.6M339.6 197.4V207.4M335.3 198.1L343.9 206.7M335.3 206.7L343.9 198.1" stroke="#ff0000" stroke-width="1.70" stroke-linecap="round"/>
<path d="M363.3 179.7V215.2M360.5 179.7h5.6M360.5 215.2h5.6" stroke="#ff2828" stroke-width="1.1"/>
<path d="M358.3 197.4H368.3M363.3 192.4V202.4M359.0 193.1L367.6 201.7M359.0 201.7L367.6 193.1" stroke="#ff0000" stroke-width="1.70" stroke-linecap="round"/>
<path d="M365.2 177.4V206.5M362.4 177.4h5.6M362.4 206.5h5.6" stroke="#ff2828" stroke-width="1.1"/>
<path d="M360.2 192.0H370.2M365.2 187.0V197.0M360.9 187.7L369.5 196.3M360.9 196.3L369.5 187.7" stroke="#ff0000" stroke-width="1.70" stroke-linecap="round"/>
<path d="M381.8 196.7V217.2M379.0 196.7h5.6M379.0 217.2h5.6" stroke="#ff2828" stroke-width="1.1"/>
<path d="M376.8 207.0H386.8M381.8 202.0V212.0M377.5 202.7L386.1 211.3M377.5 211.3L386.1 202.7" stroke="#ff0000" stroke-width="1.70" stroke-linecap="round"/>
<path d="M384.0 191.2V209.4M381.2 191.2h5.6M381.2 209.4h5.6" stroke="#ff2828" stroke-width="1.1"/>
<path d="M379.0 200.3H389.0M384.0 195.3V205.3M379.7 196.0L388.3 204.6M379.7 204.6L388.3 196.0" stroke="#ff0000" stroke-width="1.70" stroke-linecap="round"/>
<path d="M390.5 184.2V215.3M387.7 184.2h5.6M387.7 215.3h5.6" stroke="#ff2828" stroke-width="1.1"/>
<path d="M385.5 199.7H395.5M390.5 194.7V204.7M386.2 195.4L394.8 204.0M386.2 204.0L394.8 195.4" stroke="#ff0000" stroke-width="1.70" stroke-linecap="round"/>
<path d="M393.1 199.6V220.1M390.3 199.6h5.6M390.3 220.1h5.6" stroke="#ff2828" stroke-width="1.1"/>
<path d="M388.1 209.9H398.1M393.1 204.9V214.9M388.8 205.6L397.4 214.2M388.8 214.2L397.4 205.6" stroke="#ff0000" stroke-width="1.70" stroke-linecap="round"/>
<path d="M394.9 191.7V211.7M392.1 191.7h5.6M392.1 211.7h5.6" stroke="#ff2828" stroke-width="1.1"/>
<path d="M389.9 201.7H399.9M394.9 196.7V206.7M390.6 197.4L399.2 206.0M390.6 206.0L399.2 197.4" stroke="#ff0000" stroke-width="1.70" stroke-linecap="round"/>
<path d="M418.0 174.9V220.2M415.2 174.9h5.6M415.2 220.2h5.6" stroke="#ff2828" stroke-width="1.1"/>
<path d="M413.0 197.5H423.0M418.0 192.5V202.5M413.7 193.2L422.3 201.8M413.7 201.8L422.3 193.2" stroke="#ff0000" stroke-width="1.70" stroke-linecap="round"/>
<path d="M433.1 208.8V238.5M430.3 208.8h5.6M430.3 238.5h5.6" stroke="#ff2828" stroke-width="1.1"/>
<path d="M428.1 223.7H438.1M433.1 218.7V228.7M428.8 219.4L437.4 228.0M428.8 228.0L437.4 219.4" stroke="#ff0000" stroke-width="1.70" stroke-linecap="round"/>
<path d="M439.9 205.8V240.7M437.1 205.8h5.6M437.1 240.7h5.6" stroke="#ff2828" stroke-width="1.1"/>
<path d="M434.9 223.3H444.9M439.9 218.3V228.3M435.6 219.0L444.2 227.6M435.6 227.6L444.2 219.0" stroke="#ff0000" stroke-width="1.70" stroke-linecap="round"/>
<path d="M444.5 197.3V237.9M441.7 197.3h5.6M441.7 237.9h5.6" stroke="#ff2828" stroke-width="1.1"/>
<path d="M439.5 217.6H449.5M444.5 212.6V222.6M440.2 213.3L448.8 221.9M440.2 221.9L448.8 213.3" stroke="#ff0000" stroke-width="1.70" stroke-linecap="round"/>
<path d="M470.6 207.0V251.8M467.8 207.0h5.6M467.8 251.8h5.6" stroke="#ff2828" stroke-width="1.1"/>
<path d="M465.6 229.4H475.6M470.6 224.4V234.4M466.3 225.1L474.9 233.7M466.3 233.7L474.9 225.1" stroke="#ff0000" stroke-width="1.70" stroke-linecap="round"/>
<path d="M475.8 219.0V257.4M473.0 219.0h5.6M473.0 257.4h5.6" stroke="#ff2828" stroke-width="1.1"/>
<path d="M470.8 238.2H480.8M475.8 233.2V243.2M471.5 233.9L480.1 242.5M471.5 242.5L480.1 233.9" stroke="#ff0000" stroke-width="1.70" stroke-linecap="round"/>
<path d="M481.6 218.3V239.6M478.8 218.3h5.6M478.8 239.6h5.6" stroke="#ff2828" stroke-width="1.1"/>
<path d="M476.6 228.9H486.6M481.6 223.9V233.9M477.3 224.6L485.9 233.2M477.3 233.2L485.9 224.6" stroke="#ff0000" stroke-width="1.70" stroke-linecap="round"/>
<path d="M484.6 226.0V249.2M481.8 226.0h5.6M481.8 249.2h5.6" stroke="#ff2828" stroke-width="1.1"/>
<path d="M479.6 237.6H489.6M484.6 232.6V242.6M480.3 233.3L488.9 241.9M480.3 241.9L488.9 233.3" stroke="#ff0000" stroke-width="1.70" stroke-linecap="round"/>
<path d="M513.1 215.3V238.2M510.3 215.3h5.6M510.3 238.2h5.6" stroke="#ff2828" stroke-width="1.1"/>
<path d="M508.1 226.7H518.1M513.1 221.7V231.7M508.8 222.4L517.4 231.0M508.8 231.0L517.4 222.4" stroke="#ff0000" stroke-width="1.70" stroke-linecap="round"/>
<path d="M517.3 217.6V250.7M514.5 217.6h5.6M514.5 250.7h5.6" stroke="#ff2828" stroke-width="1.1"/>
<path d="M512.3 234.1H522.3M517.3 229.1V239.1M513.0 229.8L521.6 238.4M513.0 238.4L521.6 229.8" stroke="#ff0000" stroke-width="1.70" stroke-linecap="round"/>
<path d="M519.4 194.2V219.9M516.6 194.2h5.6M516.6 219.9h5.6" stroke="#ff2828" stroke-width="1.1"/>
<path d="M514.4 207.1H524.4M519.4 202.1V212.1M515.1 202.8L523.7 211.4M515.1 211.4L523.7 202.8" stroke="#ff0000" stroke-width="1.70" stroke-linecap="round"/>
<path d="M522.2 201.2V220.6M519.4 201.2h5.6M519.4 220.6h5.6" stroke="#ff2828" stroke-width="1.1"/>
<path d="M517.2 210.9H527.2M522.2 205.9V215.9M517.9 206.6L526.5 215.2M517.9 215.2L526.5 206.6" stroke="#ff0000" stroke-width="1.70" stroke-linecap="round"/>
<path d="M526.0 192.8V226.0M523.2 192.8h5.6M523.2 226.0h5.6" stroke="#ff2828" stroke-width="1.1"/>
<path d="M521.0 209.4H531.0M526.0 204.4V214.4M521.7 205.1L530.3 213.7M521.7 213.7L530.3 205.1" stroke="#ff0000" stroke-width="1.70" stroke-linecap="round"/>
<path d="M535.2 176.8V199.3M532.4 176.8h5.6M532.4 199.3h5.6" stroke="#ff2828" stroke-width="1.1"/>
<path d="M530.2 188.0H540.2M535.2 183.0V193.0M530.9 183.7L539.5 192.3M530.9 192.3L539.5 183.7" stroke="#ff0000" stroke-width="1.70" stroke-linecap="round"/>
<path d="M538.0 181.6V204.5M535.2 181.6h5.6M535.2 204.5h5.6" stroke="#ff2828" stroke-width="1.1"/>
<path d="M533.0 193.1H543.0M538.0 188.1V198.1M533.7 188.8L542.3 197.4M533.7 197.4L542.3 188.8" stroke="#ff0000" stroke-width="1.70" stroke-linecap="round"/>
<path d="M541.0 171.0V193.2M538.2 171.0h5.6M538.2 193.2h5.6" stroke="#ff2828" stroke-width="1.1"/>
<path d="M536.0 182.1H546.0M541.0 177.1V187.1M536.7 177.8L545.3 186.4M536.7 186.4L545.3 177.8" stroke="#ff0000" stroke-width="1.70" stroke-linecap="round"/>
<path d="M541.9 171.9V190.1M539.1 171.9h5.6M539.1 190.1h5.6" stroke="#ff2828" stroke-width="1.1"/>
<path d="M536.9 181.0H546.9M541.9 176.0V186.0M537.6 176.7L546.2 185.3M537.6 185.3L546.2 176.7" stroke="#ff0000" stroke-width="1.70" stroke-linecap="round"/>
<path d="M543.8 190.7V220.4M541.0 190.7h5.6M541.0 220.4h5.6" stroke="#ff2828" stroke-width="1.1"/>
<path d="M538.8 205.5H548.8M543.8 200.5V210.5M539.5 201.2L548.1 209.8M539.5 209.8L548.1 201.2" stroke="#ff0000" stroke-width="1.70" stroke-linecap="round"/>
<path d="M559.8 145.1V173.5M557.0 145.1h5.6M557.0 173.5h5.6" stroke="#ff2828" stroke-width="1.1"/>
<path d="M554.8 159.3H564.8M559.8 154.3V164.3M555.5 155.0L564.1 163.6M555.5 163.6L564.1 155.0" stroke="#ff0000" stroke-width="1.70" stroke-linecap="round"/>
<path d="M567.9 152.6V187.7M565.1 152.6h5.6M565.1 187.7h5.6" stroke="#ff2828" stroke-width="1.1"/>
<path d="M562.9 170.1H572.9M567.9 165.1V175.1M563.6 165.8L572.2 174.4M563.6 174.4L572.2 165.8" stroke="#ff0000" stroke-width="1.70" stroke-linecap="round"/>
<path d="M591.5 147.5V185.8M588.7 147.5h5.6M588.7 185.8h5.6" stroke="#ff2828" stroke-width="1.1"/>
<path d="M586.5 166.7H596.5M591.5 161.7V171.7M587.2 162.4L595.8 171.0M587.2 171.0L595.8 162.4" stroke="#ff0000" stroke-width="1.70" stroke-linecap="round"/>
<path d="M141.0 130.0V164.0M138.2 130.0h5.6M138.2 164.0h5.6" stroke="#ff2828" stroke-width="1.1"/>
<path d="M136.0 147.0H146.0M141.0 142.0V152.0M136.7 142.7L145.3 151.3M136.7 151.3L145.3 142.7" stroke="#ff0000" stroke-width="1.70" stroke-linecap="round"/>
<path d="M146.0 128.0V160.0M143.2 128.0h5.6M143.2 160.0h5.6" stroke="#ff2828" stroke-width="1.1"/>
<path d="M141.0 144.0H151.0M146.0 139.0V149.0M141.7 139.7L150.3 148.3M141.7 148.3L150.3 139.7" stroke="#ff0000" stroke-width="1.70" stroke-linecap="round"/>
<path d="M136.0 136.0V164.0M133.2 136.0h5.6M133.2 164.0h5.6" stroke="#ff2828" stroke-width="1.1"/>
<path d="M131.0 150.0H141.0M136.0 145.0V155.0M131.7 145.7L140.3 154.3M131.7 154.3L140.3 145.7" stroke="#ff0000" stroke-width="1.70" stroke-linecap="round"/>
<path d="M593.0 129.0V165.0M590.2 129.0h5.6M590.2 165.0h5.6" stroke="#ff2828" stroke-width="1.1"/>
<path d="M588.0 147.0H598.0M593.0 142.0V152.0M588.7 142.7L597.3 151.3M588.7 151.3L597.3 142.7" stroke="#ff0000" stroke-width="1.70" stroke-linecap="round"/>
<path d="M597.0 133.0V165.0M594.2 133.0h5.6M594.2 165.0h5.6" stroke="#ff2828" stroke-width="1.1"/>
<path d="M592.0 149.0H602.0M597.0 144.0V154.0M592.7 144.7L601.3 153.3M592.7 153.3L601.3 144.7" stroke="#ff0000" stroke-width="1.70" stroke-linecap="round"/>
<path d="M274.0 252.0V280.0M271.2 252.0h5.6M271.2 280.0h5.6" stroke="#ff2828" stroke-width="1.1"/>
<path d="M269.0 266.0H279.0M274.0 261.0V271.0M269.7 261.7L278.3 270.3M269.7 270.3L278.3 261.7" stroke="#ff0000" stroke-width="1.70" stroke-linecap="round"/>
<path d="M286.0 250.0V280.0M283.2 250.0h5.6M283.2 280.0h5.6" stroke="#ff2828" stroke-width="1.1"/>
<path d="M281.0 265.0H291.0M286.0 260.0V270.0M281.7 260.7L290.3 269.3M281.7 269.3L290.3 260.7" stroke="#ff0000" stroke-width="1.70" stroke-linecap="round"/>
<path d="M252.0 243.0V273.0M249.2 243.0h5.6M249.2 273.0h5.6" stroke="#ff2828" stroke-width="1.1"/>
<path d="M247.0 258.0H257.0M252.0 253.0V263.0M247.7 253.7L256.3 262.3M247.7 262.3L256.3 253.7" stroke="#ff0000" stroke-width="1.70" stroke-linecap="round"/>
<path d="M129.8 147.7V183.3M127.0 147.7h5.6M127.0 183.3h5.6" stroke="#5858ff" stroke-width="1.1"/>
<rect x="125.9" y="161.6" width="7.8" height="7.8" fill="#0000ff" stroke="#000" stroke-width=".7"/>
<path d="M174.9 150.2V191.4M172.1 150.2h5.6M172.1 191.4h5.6" stroke="#5858ff" stroke-width="1.1"/>
<rect x="171.0" y="166.9" width="7.8" height="7.8" fill="#0000ff" stroke="#000" stroke-width=".7"/>
<path d="M175.8 139.6V185.2M173.0 139.6h5.6M173.0 185.2h5.6" stroke="#5858ff" stroke-width="1.1"/>
<rect x="171.9" y="158.5" width="7.8" height="7.8" fill="#0000ff" stroke="#000" stroke-width=".7"/>
<path d="M184.5 175.2V206.1M181.7 175.2h5.6M181.7 206.1h5.6" stroke="#5858ff" stroke-width="1.1"/>
<rect x="180.6" y="186.7" width="7.8" height="7.8" fill="#0000ff" stroke="#000" stroke-width=".7"/>
<path d="M189.4 181.9V202.3M186.6 181.9h5.6M186.6 202.3h5.6" stroke="#5858ff" stroke-width="1.1"/>
<rect x="185.5" y="188.2" width="7.8" height="7.8" fill="#0000ff" stroke="#000" stroke-width=".7"/>
<path d="M206.6 193.0V227.1M203.8 193.0h5.6M203.8 227.1h5.6" stroke="#5858ff" stroke-width="1.1"/>
<rect x="202.7" y="206.1" width="7.8" height="7.8" fill="#0000ff" stroke="#000" stroke-width=".7"/>
<path d="M224.7 195.7V221.1M221.9 195.7h5.6M221.9 221.1h5.6" stroke="#5858ff" stroke-width="1.1"/>
<rect x="220.8" y="204.5" width="7.8" height="7.8" fill="#0000ff" stroke="#000" stroke-width=".7"/>
<path d="M225.8 216.2V257.9M223.0 216.2h5.6M223.0 257.9h5.6" stroke="#5858ff" stroke-width="1.1"/>
<rect x="221.9" y="233.1" width="7.8" height="7.8" fill="#0000ff" stroke="#000" stroke-width=".7"/>
<path d="M228.6 221.9V248.3M225.8 221.9h5.6M225.8 248.3h5.6" stroke="#5858ff" stroke-width="1.1"/>
<rect x="224.7" y="231.2" width="7.8" height="7.8" fill="#0000ff" stroke="#000" stroke-width=".7"/>
<path d="M258.6 228.9V266.2M255.8 228.9h5.6M255.8 266.2h5.6" stroke="#5858ff" stroke-width="1.1"/>
<rect x="254.7" y="243.6" width="7.8" height="7.8" fill="#0000ff" stroke="#000" stroke-width=".7"/>
<path d="M267.8 231.7V279.1M265.0 231.7h5.6M265.0 279.1h5.6" stroke="#5858ff" stroke-width="1.1"/>
<rect x="263.9" y="251.5" width="7.8" height="7.8" fill="#0000ff" stroke="#000" stroke-width=".7"/>
<path d="M295.2 230.1V256.5M292.4 230.1h5.6M292.4 256.5h5.6" stroke="#5858ff" stroke-width="1.1"/>
<rect x="291.3" y="239.4" width="7.8" height="7.8" fill="#0000ff" stroke="#000" stroke-width=".7"/>
<path d="M327.4 183.7V224.7M324.6 183.7h5.6M324.6 224.7h5.6" stroke="#5858ff" stroke-width="1.1"/>
<rect x="323.5" y="200.3" width="7.8" height="7.8" fill="#0000ff" stroke="#000" stroke-width=".7"/>
<path d="M336.6 192.3V235.4M333.8 192.3h5.6M333.8 235.4h5.6" stroke="#5858ff" stroke-width="1.1"/>
<rect x="332.7" y="210.0" width="7.8" height="7.8" fill="#0000ff" stroke="#000" stroke-width=".7"/>
<path d="M358.5 162.3V201.6M355.7 162.3h5.6M355.7 201.6h5.6" stroke="#5858ff" stroke-width="1.1"/>
<rect x="354.6" y="178.0" width="7.8" height="7.8" fill="#0000ff" stroke="#000" stroke-width=".7"/>
<path d="M366.2 175.0V211.4M363.4 175.0h5.6M363.4 211.4h5.6" stroke="#5858ff" stroke-width="1.1"/>
<rect x="362.3" y="189.3" width="7.8" height="7.8" fill="#0000ff" stroke="#000" stroke-width=".7"/>
<path d="M377.8 160.5V205.2M375.0 160.5h5.6M375.0 205.2h5.6" stroke="#5858ff" stroke-width="1.1"/>
<rect x="373.9" y="178.9" width="7.8" height="7.8" fill="#0000ff" stroke="#000" stroke-width=".7"/>
<path d="M385.2 172.5V215.5M382.4 172.5h5.6M382.4 215.5h5.6" stroke="#5858ff" stroke-width="1.1"/>
<rect x="381.3" y="190.1" width="7.8" height="7.8" fill="#0000ff" stroke="#000" stroke-width=".7"/>
<path d="M385.8 180.8V210.5M383.0 180.8h5.6M383.0 210.5h5.6" stroke="#5858ff" stroke-width="1.1"/>
<rect x="381.9" y="191.7" width="7.8" height="7.8" fill="#0000ff" stroke="#000" stroke-width=".7"/>
<path d="M427.2 170.1V215.5M424.4 170.1h5.6M424.4 215.5h5.6" stroke="#5858ff" stroke-width="1.1"/>
<rect x="423.3" y="188.9" width="7.8" height="7.8" fill="#0000ff" stroke="#000" stroke-width=".7"/>
<path d="M430.9 183.2V226.8M428.1 183.2h5.6M428.1 226.8h5.6" stroke="#5858ff" stroke-width="1.1"/>
<rect x="427.0" y="201.1" width="7.8" height="7.8" fill="#0000ff" stroke="#000" stroke-width=".7"/>
<path d="M438.9 207.8V239.1M436.1 207.8h5.6M436.1 239.1h5.6" stroke="#5858ff" stroke-width="1.1"/>
<rect x="435.0" y="219.5" width="7.8" height="7.8" fill="#0000ff" stroke="#000" stroke-width=".7"/>
<path d="M465.5 224.3V257.0M462.7 224.3h5.6M462.7 257.0h5.6" stroke="#5858ff" stroke-width="1.1"/>
<rect x="461.6" y="236.8" width="7.8" height="7.8" fill="#0000ff" stroke="#000" stroke-width=".7"/>
<path d="M487.3 226.3V261.6M484.5 226.3h5.6M484.5 261.6h5.6" stroke="#5858ff" stroke-width="1.1"/>
<rect x="483.4" y="240.0" width="7.8" height="7.8" fill="#0000ff" stroke="#000" stroke-width=".7"/>
<path d="M488.4 226.3V258.8M485.6 226.3h5.6M485.6 258.8h5.6" stroke="#5858ff" stroke-width="1.1"/>
<rect x="484.5" y="238.7" width="7.8" height="7.8" fill="#0000ff" stroke="#000" stroke-width=".7"/>
<path d="M520.8 210.1V244.4M518.0 210.1h5.6M518.0 244.4h5.6" stroke="#5858ff" stroke-width="1.1"/>
<rect x="516.9" y="223.4" width="7.8" height="7.8" fill="#0000ff" stroke="#000" stroke-width=".7"/>
<path d="M530.8 199.1V239.5M528.0 199.1h5.6M528.0 239.5h5.6" stroke="#5858ff" stroke-width="1.1"/>
<rect x="526.9" y="215.4" width="7.8" height="7.8" fill="#0000ff" stroke="#000" stroke-width=".7"/>
<path d="M569.3 148.5V184.6M566.5 148.5h5.6M566.5 184.6h5.6" stroke="#5858ff" stroke-width="1.1"/>
<rect x="565.4" y="162.6" width="7.8" height="7.8" fill="#0000ff" stroke="#000" stroke-width=".7"/>
<path d="M581.0 174.0V197.1M578.2 174.0h5.6M578.2 197.1h5.6" stroke="#5858ff" stroke-width="1.1"/>
<rect x="577.1" y="181.7" width="7.8" height="7.8" fill="#0000ff" stroke="#000" stroke-width=".7"/>
<path d="M588.0 143.3V182.6M585.2 143.3h5.6M585.2 182.6h5.6" stroke="#5858ff" stroke-width="1.1"/>
<rect x="584.1" y="159.1" width="7.8" height="7.8" fill="#0000ff" stroke="#000" stroke-width=".7"/>
<polyline points="97.0,186.3 98.6,184.4 100.3,182.6 102.0,180.8 103.6,179.1 105.3,177.5 107.0,175.9 108.6,174.5 110.3,173.1 112.0,171.8 113.6,170.6 115.3,169.5 117.0,168.5 118.6,167.5 120.3,166.7 122.0,166.0 123.6,165.4 125.3,164.9 127.0,164.4 128.6,164.1 130.3,163.9 132.0,163.7 133.6,163.7 135.3,163.7 137.0,163.9 138.6,164.1 140.3,164.4 142.0,164.8 143.6,165.2 145.3,165.7 146.9,166.3 148.6,167.0 150.3,167.7 151.9,168.5 153.6,169.3 155.3,170.2 156.9,171.1 158.6,172.1 160.3,173.1 161.9,174.2 163.6,175.3 165.3,176.4 166.9,177.5 168.6,178.7 170.3,179.9 171.9,181.1 173.6,182.4 175.3,183.6 176.9,184.9 178.6,186.2 180.3,187.5 181.9,188.8 183.6,190.2 185.3,191.5 186.9,192.9 188.6,194.2 190.3,195.6 191.9,197.0 193.6,198.4 195.3,199.8 196.9,201.3 198.6,202.7 200.3,204.1 201.9,205.6 203.6,207.1 205.3,208.5 206.9,210.0 208.6,211.5 210.3,213.0 211.9,214.5 213.6,216.0 215.3,217.5 216.9,219.0 218.6,220.6 220.3,222.1 221.9,223.6 223.6,225.1 225.3,226.6 226.9,228.1 228.6,229.5 230.3,231.0 231.9,232.4 233.6,233.8 235.2,235.2 236.9,236.6 238.6,237.9 240.2,239.1 241.9,240.4 243.6,241.6 245.2,242.7 246.9,243.7 248.6,244.8 250.2,245.7 251.9,246.6 253.6,247.4 255.2,248.1 256.9,248.7 258.6,249.3 260.2,249.8 261.9,250.1 263.6,250.4 265.2,250.6 266.9,250.7 268.6,250.7 270.2,250.6 271.9,250.4 273.6,250.1 275.2,249.7 276.9,249.2 278.6,248.6 280.2,247.9 281.9,247.1 283.6,246.3 285.2,245.3 286.9,244.2 288.6,243.1 290.2,241.8 291.9,240.5 293.6,239.2 295.2,237.7 296.9,236.2 298.6,234.6 300.2,233.0 301.9,231.4 303.6,229.7 305.2,227.9 306.9,226.2 308.6,224.4 310.2,222.6 311.9,220.8 313.6,219.0 315.2,217.3 316.9,215.5 318.6,213.7 320.2,212.0 321.9,210.3 323.5,208.6 325.2,207.0 326.9,205.4 328.5,203.9 330.2,202.4 331.9,201.0 333.5,199.7 335.2,198.4 336.9,197.2 338.5,196.0 340.2,194.9 341.9,194.0 343.5,193.0 345.2,192.2 346.9,191.4 348.5,190.8 350.2,190.2 351.9,189.6 353.5,189.2 355.2,188.8 356.9,188.5 358.5,188.3 360.2,188.2 361.9,188.1 363.5,188.1 365.2,188.1 366.9,188.2 368.5,188.4 370.2,188.6 371.9,188.9 373.5,189.2 375.2,189.5 376.9,189.9 378.5,190.4 380.2,190.9 381.9,191.4 383.5,191.9 385.2,192.5 386.9,193.1 388.5,193.7 390.2,194.4 391.9,195.0 393.5,195.7 395.2,196.4 396.9,197.1 398.5,197.8 400.2,198.6 401.9,199.3 403.5,200.0 405.2,200.8 406.9,201.6 408.5,202.4 410.2,203.2 411.8,204.0 413.5,204.8 415.2,205.6 416.8,206.4 418.5,207.3 420.2,208.1 421.8,209.0 423.5,209.9 425.2,210.7 426.8,211.6 428.5,212.6 430.2,213.5 431.8,214.4 433.5,215.4 435.2,216.4 436.8,217.3 438.5,218.3 440.2,219.3 441.8,220.3 443.5,221.4 445.2,222.4 446.8,223.4 448.5,224.4 450.2,225.5 451.8,226.5 453.5,227.5 455.2,228.5 456.8,229.5 458.5,230.5 460.2,231.4 461.8,232.3 463.5,233.2 465.2,234.1 466.8,234.9 468.5,235.7 470.2,236.4 471.8,237.1 473.5,237.8 475.2,238.3 476.8,238.8 478.5,239.3 480.2,239.6 481.8,239.9 483.5,240.1 485.2,240.2 486.8,240.3 488.5,240.2 490.2,240.0 491.8,239.8 493.5,239.4 495.1,239.0 496.8,238.5 498.5,237.8 500.1,237.1 501.8,236.2 503.5,235.3 505.1,234.2 506.8,233.1 508.5,231.9 510.1,230.6 511.8,229.1 513.5,227.6 515.1,226.1 516.8,224.4 518.5,222.7 520.1,220.9 521.8,219.0 523.5,217.1 525.1,215.2 526.8,213.2 528.5,211.1 530.1,209.1 531.8,207.0 533.5,204.9 535.1,202.7 536.8,200.6 538.5,198.5 540.1,196.4 541.8,194.3 543.5,192.3 545.1,190.2 546.8,188.2 548.5,186.3 550.1,184.4 551.8,182.6 553.5,180.8 555.1,179.1 556.8,177.5 558.5,175.9 560.1,174.5 561.8,173.1 563.5,171.8 565.1,170.6 566.8,169.5 568.5,168.5 570.1,167.5 571.8,166.7 573.5,166.0 575.1,165.4 576.8,164.9 578.5,164.4 580.1,164.1 581.8,163.9 583.4,163.7 585.1,163.7 586.8,163.7 588.4,163.9 590.1,164.1 591.8,164.4 593.4,164.8 595.1,165.2 596.8,165.7" fill="none" stroke="#000" stroke-width="2.8" stroke-linejoin="round"/>
<path d="M125.3 160.6V195.7M122.5 160.6h5.6M122.5 195.7h5.6" stroke="#505050" stroke-width="1.1"/>
<circle cx="125.3" cy="178.1" r="3.90" fill="#000000" stroke="#000" stroke-width=".7"/>
<path d="M146.3 149.2V185.7M143.5 149.2h5.6M143.5 185.7h5.6" stroke="#505050" stroke-width="1.1"/>
<circle cx="146.3" cy="167.5" r="3.90" fill="#000000" stroke="#000" stroke-width=".7"/>
<path d="M187.1 178.9V205.5M184.3 178.9h5.6M184.3 205.5h5.6" stroke="#505050" stroke-width="1.1"/>
<circle cx="187.1" cy="192.2" r="3.90" fill="#000000" stroke="#000" stroke-width=".7"/>
<path d="M192.9 160.2V207.6M190.1 160.2h5.6M190.1 207.6h5.6" stroke="#505050" stroke-width="1.1"/>
<circle cx="192.9" cy="183.9" r="3.90" fill="#000000" stroke="#000" stroke-width=".7"/>
<path d="M208.8 193.6V234.7M206.0 193.6h5.6M206.0 234.7h5.6" stroke="#505050" stroke-width="1.1"/>
<circle cx="208.8" cy="214.2" r="3.90" fill="#000000" stroke="#000" stroke-width=".7"/>
<path d="M241.9 217.5V249.2M239.1 217.5h5.6M239.1 249.2h5.6" stroke="#505050" stroke-width="1.1"/>
<circle cx="241.9" cy="233.3" r="3.90" fill="#000000" stroke="#000" stroke-width=".7"/>
<path d="M277.8 239.1V259.2M275.0 239.1h5.6M275.0 259.2h5.6" stroke="#505050" stroke-width="1.1"/>
<circle cx="277.8" cy="249.2" r="3.90" fill="#000000" stroke="#000" stroke-width=".7"/>
<path d="M282.8 237.4V259.7M280.0 237.4h5.6M280.0 259.7h5.6" stroke="#505050" stroke-width="1.1"/>
<circle cx="282.8" cy="248.6" r="3.90" fill="#000000" stroke="#000" stroke-width=".7"/>
<path d="M294.5 221.6V269.2M291.7 221.6h5.6M291.7 269.2h5.6" stroke="#505050" stroke-width="1.1"/>
<circle cx="294.5" cy="245.4" r="3.90" fill="#000000" stroke="#000" stroke-width=".7"/>
<path d="M317.0 184.7V231.6M314.2 184.7h5.6M314.2 231.6h5.6" stroke="#505050" stroke-width="1.1"/>
<circle cx="317.0" cy="208.2" r="3.90" fill="#000000" stroke="#000" stroke-width=".7"/>
<path d="M348.1 156.6V187.9M345.3 156.6h5.6M345.3 187.9h5.6" stroke="#505050" stroke-width="1.1"/>
<circle cx="348.1" cy="172.2" r="3.90" fill="#000000" stroke="#000" stroke-width=".7"/>
<path d="M396.6 191.9V222.6M393.8 191.9h5.6M393.8 222.6h5.6" stroke="#505050" stroke-width="1.1"/>
<circle cx="396.6" cy="207.3" r="3.90" fill="#000000" stroke="#000" stroke-width=".7"/>
<path d="M401.6 188.8V218.6M398.8 188.8h5.6M398.8 218.6h5.6" stroke="#505050" stroke-width="1.1"/>
<circle cx="401.6" cy="203.7" r="3.90" fill="#000000" stroke="#000" stroke-width=".7"/>
<path d="M515.7 204.8V234.0M512.9 204.8h5.6M512.9 234.0h5.6" stroke="#505050" stroke-width="1.1"/>
<circle cx="515.7" cy="219.4" r="3.90" fill="#000000" stroke="#000" stroke-width=".7"/>
<path d="M560.9 166.1V191.0M558.1 166.1h5.6M558.1 191.0h5.6" stroke="#505050" stroke-width="1.1"/>
<circle cx="560.9" cy="178.6" r="3.90" fill="#000000" stroke="#000" stroke-width=".7"/>
<path d="M572.1 150.2V181.0M569.3 150.2h5.6M569.3 181.0h5.6" stroke="#505050" stroke-width="1.1"/>
<circle cx="572.1" cy="165.6" r="3.90" fill="#000000" stroke="#000" stroke-width=".7"/>
<path d="M108.6 163.3V199.5M105.8 163.3h5.6M105.8 199.5h5.6" stroke="#d03030" stroke-width="1.1"/>
<path d="M108.6 176.6L113.2 184.8H104.0Z" fill="#800000" stroke="#000" stroke-width=".7"/>
<path d="M109.8 166.4V205.7M107.0 166.4h5.6M107.0 205.7h5.6" stroke="#d03030" stroke-width="1.1"/>
<path d="M109.8 181.3L114.4 189.5H105.2Z" fill="#800000" stroke="#000" stroke-width=".7"/>
<path d="M136.4 154.7V178.3M133.6 154.7h5.6M133.6 178.3h5.6" stroke="#d03030" stroke-width="1.1"/>
<path d="M136.4 161.7L141.0 169.9H131.8Z" fill="#800000" stroke="#000" stroke-width=".7"/>
<path d="M144.0 153.8V174.4M141.2 153.8h5.6M141.2 174.4h5.6" stroke="#d03030" stroke-width="1.1"/>
<path d="M144.0 159.3L148.6 167.5H139.4Z" fill="#800000" stroke="#000" stroke-width=".7"/>
<path d="M148.2 140.8V169.2M145.4 140.8h5.6M145.4 169.2h5.6" stroke="#d03030" stroke-width="1.1"/>
<path d="M148.2 150.2L152.8 158.4H143.6Z" fill="#800000" stroke="#000" stroke-width=".7"/>
<path d="M153.0 143.2V167.4M150.2 143.2h5.6M150.2 167.4h5.6" stroke="#d03030" stroke-width="1.1"/>
<path d="M153.0 150.5L157.6 158.7H148.4Z" fill="#800000" stroke="#000" stroke-width=".7"/>
<path d="M167.3 158.0V203.9M164.5 158.0h5.6M164.5 203.9h5.6" stroke="#d03030" stroke-width="1.1"/>
<path d="M167.3 176.2L171.9 184.4H162.7Z" fill="#800000" stroke="#000" stroke-width=".7"/>
<path d="M180.2 165.3V204.9M177.4 165.3h5.6M177.4 204.9h5.6" stroke="#d03030" stroke-width="1.1"/>
<path d="M180.2 180.3L184.8 188.5H175.6Z" fill="#800000" stroke="#000" stroke-width=".7"/>
<path d="M221.6 207.6V244.4M218.8 207.6h5.6M218.8 244.4h5.6" stroke="#d03030" stroke-width="1.1"/>
<path d="M221.6 221.2L226.2 229.4H217.0Z" fill="#800000" stroke="#000" stroke-width=".7"/>
<path d="M319.6 196.0V220.1M316.8 196.0h5.6M316.8 220.1h5.6" stroke="#d03030" stroke-width="1.1"/>
<path d="M319.6 203.3L324.2 211.5H315.0Z" fill="#800000" stroke="#000" stroke-width=".7"/>
<path d="M337.2 176.6V203.2M334.4 176.6h5.6M334.4 203.2h5.6" stroke="#d03030" stroke-width="1.1"/>
<path d="M337.2 185.1L341.8 193.3H332.6Z" fill="#800000" stroke="#000" stroke-width=".7"/>
<path d="M353.7 171.3V200.8M350.9 171.3h5.6M350.9 200.8h5.6" stroke="#d03030" stroke-width="1.1"/>
<path d="M353.7 181.2L358.3 189.4H349.1Z" fill="#800000" stroke="#000" stroke-width=".7"/>
<path d="M359.7 166.7V199.9M356.9 166.7h5.6M356.9 199.9h5.6" stroke="#d03030" stroke-width="1.1"/>
<path d="M359.7 178.5L364.3 186.7H355.1Z" fill="#800000" stroke="#000" stroke-width=".7"/>
<path d="M370.3 176.8V222.4M367.5 176.8h5.6M367.5 222.4h5.6" stroke="#d03030" stroke-width="1.1"/>
<path d="M370.3 194.8L374.9 203.0H365.7Z" fill="#800000" stroke="#000" stroke-width=".7"/>
<path d="M405.3 182.4V216.1M402.5 182.4h5.6M402.5 216.1h5.6" stroke="#d03030" stroke-width="1.1"/>
<path d="M405.3 194.4L409.9 202.6H400.7Z" fill="#800000" stroke="#000" stroke-width=".7"/>
<path d="M409.0 184.9V216.9M406.2 184.9h5.6M406.2 216.9h5.6" stroke="#d03030" stroke-width="1.1"/>
<path d="M409.0 196.1L413.6 204.3H404.4Z" fill="#800000" stroke="#000" stroke-width=".7"/>
<path d="M441.4 208.2V232.7M438.6 208.2h5.6M438.6 232.7h5.6" stroke="#d03030" stroke-width="1.1"/>
<path d="M441.4 215.7L446.0 223.9H436.8Z" fill="#800000" stroke="#000" stroke-width=".7"/>
<path d="M499.3 237.5V269.8M496.5 237.5h5.6M496.5 269.8h5.6" stroke="#d03030" stroke-width="1.1"/>
<path d="M499.3 248.9L503.9 257.1H494.7Z" fill="#800000" stroke="#000" stroke-width=".7"/>
<path d="M500.2 236.2V267.3M497.4 236.2h5.6M497.4 267.3h5.6" stroke="#d03030" stroke-width="1.1"/>
<path d="M500.2 247.0L504.8 255.2H495.6Z" fill="#800000" stroke="#000" stroke-width=".7"/>
<path d="M501.5 222.8V246.4M498.7 222.8h5.6M498.7 246.4h5.6" stroke="#d03030" stroke-width="1.1"/>
<path d="M501.5 229.8L506.1 238.0H496.9Z" fill="#800000" stroke="#000" stroke-width=".7"/>
<path d="M514.4 206.6V239.9M511.6 206.6h5.6M511.6 239.9h5.6" stroke="#d03030" stroke-width="1.1"/>
<path d="M514.4 218.4L519.0 226.6H509.8Z" fill="#800000" stroke="#000" stroke-width=".7"/>
<path d="M518.3 192.8V231.4M515.5 192.8h5.6M515.5 231.4h5.6" stroke="#d03030" stroke-width="1.1"/>
<path d="M518.3 207.3L522.9 215.5H513.7Z" fill="#800000" stroke="#000" stroke-width=".7"/>
<path d="M539.2 175.9V198.0M536.4 175.9h5.6M536.4 198.0h5.6" stroke="#d03030" stroke-width="1.1"/>
<path d="M539.2 182.1L543.8 190.3H534.6Z" fill="#800000" stroke="#000" stroke-width=".7"/>
<path d="M544.8 182.7V214.4M542.0 182.7h5.6M542.0 214.4h5.6" stroke="#d03030" stroke-width="1.1"/>
<path d="M544.8 193.7L549.4 201.9H540.2Z" fill="#800000" stroke="#000" stroke-width=".7"/>
<path d="M552.8 160.2V207.3M550.0 160.2h5.6M550.0 207.3h5.6" stroke="#d03030" stroke-width="1.1"/>
<path d="M552.8 178.9L557.4 187.1H548.2Z" fill="#800000" stroke="#000" stroke-width=".7"/>
<path d="M570.7 163.5V201.4M567.9 163.5h5.6M567.9 201.4h5.6" stroke="#d03030" stroke-width="1.1"/>
<path d="M570.7 177.6L575.3 185.8H566.1Z" fill="#800000" stroke="#000" stroke-width=".7"/>
<path d="M578.3 156.8V193.5M575.5 156.8h5.6M575.5 193.5h5.6" stroke="#d03030" stroke-width="1.1"/>
<path d="M578.3 170.3L582.9 178.5H573.7Z" fill="#800000" stroke="#000" stroke-width=".7"/>
<path d="M586.2 148.8V179.2M583.4 148.8h5.6M583.4 179.2h5.6" stroke="#d03030" stroke-width="1.1"/>
<path d="M586.2 159.2L590.8 167.4H581.6Z" fill="#800000" stroke="#000" stroke-width=".7"/>
<path d="M593.2 143.6V170.8M590.4 143.6h5.6M590.4 170.8h5.6" stroke="#d03030" stroke-width="1.1"/>
<path d="M593.2 152.4L597.8 160.6H588.6Z" fill="#800000" stroke="#000" stroke-width=".7"/>
<path d="M595.3 155.6V177.6M592.5 155.6h5.6M592.5 177.6h5.6" stroke="#d03030" stroke-width="1.1"/>
<path d="M595.3 161.8L599.9 170.0H590.7Z" fill="#800000" stroke="#000" stroke-width=".7"/>
<path d="M97.7 160.0V198.4M94.9 160.0h5.6M94.9 198.4h5.6" stroke="#30a030" stroke-width="1.1"/>
<path d="M97.7 184.0L102.3 175.8H93.1Z" fill="#008000" stroke="#000" stroke-width=".7"/>
<path d="M147.9 135.0V179.2M145.1 135.0h5.6M145.1 179.2h5.6" stroke="#30a030" stroke-width="1.1"/>
<path d="M147.9 161.9L152.5 153.7H143.3Z" fill="#008000" stroke="#000" stroke-width=".7"/>
<path d="M177.6 189.2V215.9M174.8 189.2h5.6M174.8 215.9h5.6" stroke="#30a030" stroke-width="1.1"/>
<path d="M177.6 207.3L182.2 199.1H173.0Z" fill="#008000" stroke="#000" stroke-width=".7"/>
<path d="M192.6 175.1V222.3M189.8 175.1h5.6M189.8 222.3h5.6" stroke="#30a030" stroke-width="1.1"/>
<path d="M192.6 203.5L197.2 195.3H188.0Z" fill="#008000" stroke="#000" stroke-width=".7"/>
<path d="M197.9 174.2V208.5M195.1 174.2h5.6M195.1 208.5h5.6" stroke="#30a030" stroke-width="1.1"/>
<path d="M197.9 196.2L202.5 188.0H193.3Z" fill="#008000" stroke="#000" stroke-width=".7"/>
<path d="M202.2 195.8V221.1M199.4 195.8h5.6M199.4 221.1h5.6" stroke="#30a030" stroke-width="1.1"/>
<path d="M202.2 213.3L206.8 205.1H197.6Z" fill="#008000" stroke="#000" stroke-width=".7"/>
<path d="M212.3 196.6V243.9M209.5 196.6h5.6M209.5 243.9h5.6" stroke="#30a030" stroke-width="1.1"/>
<path d="M212.3 225.0L216.9 216.8H207.7Z" fill="#008000" stroke="#000" stroke-width=".7"/>
<path d="M214.6 202.8V233.7M211.8 202.8h5.6M211.8 233.7h5.6" stroke="#30a030" stroke-width="1.1"/>
<path d="M214.6 223.0L219.2 214.8H210.0Z" fill="#008000" stroke="#000" stroke-width=".7"/>
<path d="M215.6 199.1V233.5M212.8 199.1h5.6M212.8 233.5h5.6" stroke="#30a030" stroke-width="1.1"/>
<path d="M215.6 221.1L220.2 212.9H211.0Z" fill="#008000" stroke="#000" stroke-width=".7"/>
<path d="M218.4 196.8V238.9M215.6 196.8h5.6M215.6 238.9h5.6" stroke="#30a030" stroke-width="1.1"/>
<path d="M218.4 222.7L223.0 214.5H213.8Z" fill="#008000" stroke="#000" stroke-width=".7"/>
<path d="M220.6 206.7V237.6M217.8 206.7h5.6M217.8 237.6h5.6" stroke="#30a030" stroke-width="1.1"/>
<path d="M220.6 227.0L225.2 218.8H216.0Z" fill="#008000" stroke="#000" stroke-width=".7"/>
<path d="M223.5 194.9V237.2M220.7 194.9h5.6M220.7 237.2h5.6" stroke="#30a030" stroke-width="1.1"/>
<path d="M223.5 220.9L228.1 212.7H218.9Z" fill="#008000" stroke="#000" stroke-width=".7"/>
<path d="M231.0 222.0V266.9M228.2 222.0h5.6M228.2 266.9h5.6" stroke="#30a030" stroke-width="1.1"/>
<path d="M231.0 249.3L235.6 241.1H226.4Z" fill="#008000" stroke="#000" stroke-width=".7"/>
<path d="M283.3 227.2V275.0M280.5 227.2h5.6M280.5 275.0h5.6" stroke="#30a030" stroke-width="1.1"/>
<path d="M283.3 255.9L287.9 247.7H278.7Z" fill="#008000" stroke="#000" stroke-width=".7"/>
<path d="M286.4 231.7V251.3M283.6 231.7h5.6M283.6 251.3h5.6" stroke="#30a030" stroke-width="1.1"/>
<path d="M286.4 246.3L291.0 238.1H281.8Z" fill="#008000" stroke="#000" stroke-width=".7"/>
<path d="M287.8 219.2V260.0M285.0 219.2h5.6M285.0 260.0h5.6" stroke="#30a030" stroke-width="1.1"/>
<path d="M287.8 244.4L292.4 236.2H283.2Z" fill="#008000" stroke="#000" stroke-width=".7"/>
<path d="M290.6 224.7V268.9M287.8 224.7h5.6M287.8 268.9h5.6" stroke="#30a030" stroke-width="1.1"/>
<path d="M290.6 251.6L295.2 243.4H286.0Z" fill="#008000" stroke="#000" stroke-width=".7"/>
<path d="M313.0 191.0V215.1M310.2 191.0h5.6M310.2 215.1h5.6" stroke="#30a030" stroke-width="1.1"/>
<path d="M313.0 207.8L317.6 199.6H308.4Z" fill="#008000" stroke="#000" stroke-width=".7"/>
<path d="M326.2 202.9V236.6M323.4 202.9h5.6M323.4 236.6h5.6" stroke="#30a030" stroke-width="1.1"/>
<path d="M326.2 224.6L330.8 216.4H321.6Z" fill="#008000" stroke="#000" stroke-width=".7"/>
<path d="M331.3 178.5V211.6M328.5 178.5h5.6M328.5 211.6h5.6" stroke="#30a030" stroke-width="1.1"/>
<path d="M331.3 199.8L335.9 191.6H326.7Z" fill="#008000" stroke="#000" stroke-width=".7"/>
<path d="M339.8 177.6V210.6M337.0 177.6h5.6M337.0 210.6h5.6" stroke="#30a030" stroke-width="1.1"/>
<path d="M339.8 198.9L344.4 190.7H335.2Z" fill="#008000" stroke="#000" stroke-width=".7"/>
<path d="M343.2 171.8V198.3M340.4 171.8h5.6M340.4 198.3h5.6" stroke="#30a030" stroke-width="1.1"/>
<path d="M343.2 189.8L347.8 181.6H338.6Z" fill="#008000" stroke="#000" stroke-width=".7"/>
<path d="M356.1 170.4V204.9M353.3 170.4h5.6M353.3 204.9h5.6" stroke="#30a030" stroke-width="1.1"/>
<path d="M356.1 192.4L360.7 184.2H351.5Z" fill="#008000" stroke="#000" stroke-width=".7"/>
<path d="M371.7 173.9V207.9M368.9 173.9h5.6M368.9 207.9h5.6" stroke="#30a030" stroke-width="1.1"/>
<path d="M371.7 195.7L376.3 187.5H367.1Z" fill="#008000" stroke="#000" stroke-width=".7"/>
<path d="M405.0 176.4V222.4M402.2 176.4h5.6M402.2 222.4h5.6" stroke="#30a030" stroke-width="1.1"/>
<path d="M405.0 204.2L409.6 196.0H400.4Z" fill="#008000" stroke="#000" stroke-width=".7"/>
<path d="M423.1 185.3V229.5M420.3 185.3h5.6M420.3 229.5h5.6" stroke="#30a030" stroke-width="1.1"/>
<path d="M423.1 212.2L427.7 204.0H418.5Z" fill="#008000" stroke="#000" stroke-width=".7"/>
<path d="M428.4 195.8V219.3M425.6 195.8h5.6M425.6 219.3h5.6" stroke="#30a030" stroke-width="1.1"/>
<path d="M428.4 212.4L433.0 204.2H423.8Z" fill="#008000" stroke="#000" stroke-width=".7"/>
<path d="M429.5 207.3V226.4M426.7 207.3h5.6M426.7 226.4h5.6" stroke="#30a030" stroke-width="1.1"/>
<path d="M429.5 221.7L434.1 213.5H424.9Z" fill="#008000" stroke="#000" stroke-width=".7"/>
<path d="M437.4 210.6V238.8M434.6 210.6h5.6M434.6 238.8h5.6" stroke="#30a030" stroke-width="1.1"/>
<path d="M437.4 229.5L442.0 221.3H432.8Z" fill="#008000" stroke="#000" stroke-width=".7"/>
<path d="M448.0 205.5V236.8M445.2 205.5h5.6M445.2 236.8h5.6" stroke="#30a030" stroke-width="1.1"/>
<path d="M448.0 226.0L452.6 217.8H443.4Z" fill="#008000" stroke="#000" stroke-width=".7"/>
<path d="M452.6 204.3V242.8M449.8 204.3h5.6M449.8 242.8h5.6" stroke="#30a030" stroke-width="1.1"/>
<path d="M452.6 228.3L457.2 220.1H448.0Z" fill="#008000" stroke="#000" stroke-width=".7"/>
<path d="M462.8 199.4V231.7M460.0 199.4h5.6M460.0 231.7h5.6" stroke="#30a030" stroke-width="1.1"/>
<path d="M462.8 220.4L467.4 212.2H458.2Z" fill="#008000" stroke="#000" stroke-width=".7"/>
<path d="M476.7 220.1V260.1M473.9 220.1h5.6M473.9 260.1h5.6" stroke="#30a030" stroke-width="1.1"/>
<path d="M476.7 244.9L481.3 236.7H472.1Z" fill="#008000" stroke="#000" stroke-width=".7"/>
<path d="M495.0 215.7V245.6M492.2 215.7h5.6M492.2 245.6h5.6" stroke="#30a030" stroke-width="1.1"/>
<path d="M495.0 235.4L499.6 227.2H490.4Z" fill="#008000" stroke="#000" stroke-width=".7"/>
<path d="M512.1 216.3V257.2M509.3 216.3h5.6M509.3 257.2h5.6" stroke="#30a030" stroke-width="1.1"/>
<path d="M512.1 241.6L516.7 233.4H507.5Z" fill="#008000" stroke="#000" stroke-width=".7"/>
<path d="M524.0 200.4V223.5M521.2 200.4h5.6M521.2 223.5h5.6" stroke="#30a030" stroke-width="1.1"/>
<path d="M524.0 216.8L528.6 208.6H519.4Z" fill="#008000" stroke="#000" stroke-width=".7"/>
<path d="M556.4 151.4V179.2M553.6 151.4h5.6M553.6 179.2h5.6" stroke="#30a030" stroke-width="1.1"/>
<path d="M556.4 170.1L561.0 161.9H551.8Z" fill="#008000" stroke="#000" stroke-width=".7"/>
<path d="M562.8 156.7V191.9M560.0 156.7h5.6M560.0 191.9h5.6" stroke="#30a030" stroke-width="1.1"/>
<path d="M562.8 179.1L567.4 170.9H558.2Z" fill="#008000" stroke="#000" stroke-width=".7"/>
<path d="M567.4 165.2V189.1M564.6 165.2h5.6M564.6 189.1h5.6" stroke="#30a030" stroke-width="1.1"/>
<path d="M567.4 182.0L572.0 173.8H562.8Z" fill="#008000" stroke="#000" stroke-width=".7"/>
<path d="M583.4 151.8V184.8M580.6 151.8h5.6M580.6 184.8h5.6" stroke="#30a030" stroke-width="1.1"/>
<path d="M583.4 173.1L588.0 164.9H578.8Z" fill="#008000" stroke="#000" stroke-width=".7"/>
<path d="M586.3 175.0V193.4M583.5 175.0h5.6M583.5 193.4h5.6" stroke="#30a030" stroke-width="1.1"/>
<path d="M586.3 189.0L590.9 180.8H581.7Z" fill="#008000" stroke="#000" stroke-width=".7"/>
<path d="M589.7 142.1V186.2M586.9 142.1h5.6M586.9 186.2h5.6" stroke="#30a030" stroke-width="1.1"/>
<path d="M589.7 169.0L594.3 160.8H585.1Z" fill="#008000" stroke="#000" stroke-width=".7"/>
<path d="M98.0 170.0V194.0M95.2 170.0h5.6M95.2 194.0h5.6" stroke="#30a030" stroke-width="1.1"/>
<path d="M98.0 186.8L102.6 178.6H93.4Z" fill="#008000" stroke="#000" stroke-width=".7"/>
<path d="M125.8 148.8V186.3M123.0 148.8h5.6M123.0 186.3h5.6" stroke="#5050d8" stroke-width="1.1"/>
<path d="M125.8 162.8L130.4 167.6L125.8 172.4L121.2 167.6Z" fill="#000080" stroke="#000" stroke-width=".7"/>
<path d="M131.2 146.8V193.8M128.4 146.8h5.6M128.4 193.8h5.6" stroke="#5050d8" stroke-width="1.1"/>
<path d="M131.2 165.5L135.8 170.3L131.2 175.1L126.6 170.3Z" fill="#000080" stroke="#000" stroke-width=".7"/>
<path d="M153.5 143.0V177.1M150.7 143.0h5.6M150.7 177.1h5.6" stroke="#5050d8" stroke-width="1.1"/>
<path d="M153.5 155.2L158.1 160.0L153.5 164.8L148.9 160.0Z" fill="#000080" stroke="#000" stroke-width=".7"/>
<path d="M168.8 152.3V199.9M166.0 152.3h5.6M166.0 199.9h5.6" stroke="#5050d8" stroke-width="1.1"/>
<path d="M168.8 171.3L173.4 176.1L168.8 180.9L164.2 176.1Z" fill="#000080" stroke="#000" stroke-width=".7"/>
<path d="M172.3 153.5V199.9M169.5 153.5h5.6M169.5 199.9h5.6" stroke="#5050d8" stroke-width="1.1"/>
<path d="M172.3 171.9L176.9 176.7L172.3 181.5L167.7 176.7Z" fill="#000080" stroke="#000" stroke-width=".7"/>
<path d="M191.0 193.7V216.3M188.2 193.7h5.6M188.2 216.3h5.6" stroke="#5050d8" stroke-width="1.1"/>
<path d="M191.0 200.2L195.6 205.0L191.0 209.8L186.4 205.0Z" fill="#000080" stroke="#000" stroke-width=".7"/>
<path d="M203.6 178.9V221.1M200.8 178.9h5.6M200.8 221.1h5.6" stroke="#5050d8" stroke-width="1.1"/>
<path d="M203.6 195.2L208.2 200.0L203.6 204.8L199.0 200.0Z" fill="#000080" stroke="#000" stroke-width=".7"/>
<path d="M204.8 195.9V229.9M202.0 195.9h5.6M202.0 229.9h5.6" stroke="#5050d8" stroke-width="1.1"/>
<path d="M204.8 208.1L209.4 212.9L204.8 217.7L200.2 212.9Z" fill="#000080" stroke="#000" stroke-width=".7"/>
<path d="M210.7 171.0V212.6M207.9 171.0h5.6M207.9 212.6h5.6" stroke="#5050d8" stroke-width="1.1"/>
<path d="M210.7 187.0L215.3 191.8L210.7 196.6L206.1 191.8Z" fill="#000080" stroke="#000" stroke-width=".7"/>
<path d="M264.5 220.4V266.9M261.7 220.4h5.6M261.7 266.9h5.6" stroke="#5050d8" stroke-width="1.1"/>
<path d="M264.5 238.8L269.1 243.6L264.5 248.4L259.9 243.6Z" fill="#000080" stroke="#000" stroke-width=".7"/>
<path d="M270.0 245.5V265.9M267.2 245.5h5.6M267.2 265.9h5.6" stroke="#5050d8" stroke-width="1.1"/>
<path d="M270.0 250.9L274.6 255.7L270.0 260.5L265.4 255.7Z" fill="#000080" stroke="#000" stroke-width=".7"/>
<path d="M285.0 223.1V261.4M282.2 223.1h5.6M282.2 261.4h5.6" stroke="#5050d8" stroke-width="1.1"/>
<path d="M285.0 237.5L289.6 242.3L285.0 247.1L280.4 242.3Z" fill="#000080" stroke="#000" stroke-width=".7"/>
<path d="M298.6 224.1V252.6M295.8 224.1h5.6M295.8 252.6h5.6" stroke="#5050d8" stroke-width="1.1"/>
<path d="M298.6 233.6L303.2 238.4L298.6 243.2L294.0 238.4Z" fill="#000080" stroke="#000" stroke-width=".7"/>
<path d="M329.4 198.1V220.5M326.6 198.1h5.6M326.6 220.5h5.6" stroke="#5050d8" stroke-width="1.1"/>
<path d="M329.4 204.5L334.0 209.3L329.4 214.1L324.8 209.3Z" fill="#000080" stroke="#000" stroke-width=".7"/>
<path d="M344.4 186.1V218.4M341.6 186.1h5.6M341.6 218.4h5.6" stroke="#5050d8" stroke-width="1.1"/>
<path d="M344.4 197.5L349.0 202.3L344.4 207.1L339.8 202.3Z" fill="#000080" stroke="#000" stroke-width=".7"/>
<path d="M349.3 172.6V203.4M346.5 172.6h5.6M346.5 203.4h5.6" stroke="#5050d8" stroke-width="1.1"/>
<path d="M349.3 183.2L353.9 188.0L349.3 192.8L344.7 188.0Z" fill="#000080" stroke="#000" stroke-width=".7"/>
<path d="M350.4 166.1V209.5M347.6 166.1h5.6M347.6 209.5h5.6" stroke="#5050d8" stroke-width="1.1"/>
<path d="M350.4 183.0L355.0 187.8L350.4 192.6L345.8 187.8Z" fill="#000080" stroke="#000" stroke-width=".7"/>
<path d="M355.1 185.2V209.6M352.3 185.2h5.6M352.3 209.6h5.6" stroke="#5050d8" stroke-width="1.1"/>
<path d="M355.1 192.6L359.7 197.4L355.1 202.2L350.5 197.4Z" fill="#000080" stroke="#000" stroke-width=".7"/>
<path d="M387.1 183.1V216.5M384.3 183.1h5.6M384.3 216.5h5.6" stroke="#5050d8" stroke-width="1.1"/>
<path d="M387.1 195.0L391.7 199.8L387.1 204.6L382.5 199.8Z" fill="#000080" stroke="#000" stroke-width=".7"/>
<path d="M399.4 186.7V217.2M396.6 186.7h5.6M396.6 217.2h5.6" stroke="#5050d8" stroke-width="1.1"/>
<path d="M399.4 197.1L404.0 201.9L399.4 206.7L394.8 201.9Z" fill="#000080" stroke="#000" stroke-width=".7"/>
<path d="M424.9 209.2V230.8M422.1 209.2h5.6M422.1 230.8h5.6" stroke="#5050d8" stroke-width="1.1"/>
<path d="M424.9 215.2L429.5 220.0L424.9 224.8L420.3 220.0Z" fill="#000080" stroke="#000" stroke-width=".7"/>
<path d="M432.1 193.1V236.1M429.3 193.1h5.6M429.3 236.1h5.6" stroke="#5050d8" stroke-width="1.1"/>
<path d="M432.1 209.8L436.7 214.6L432.1 219.4L427.5 214.6Z" fill="#000080" stroke="#000" stroke-width=".7"/>
<path d="M467.9 227.7V248.5M465.1 227.7h5.6M465.1 248.5h5.6" stroke="#5050d8" stroke-width="1.1"/>
<path d="M467.9 233.3L472.5 238.1L467.9 242.9L463.3 238.1Z" fill="#000080" stroke="#000" stroke-width=".7"/>
<path d="M480.1 221.1V250.7M477.3 221.1h5.6M477.3 250.7h5.6" stroke="#5050d8" stroke-width="1.1"/>
<path d="M480.1 231.1L484.7 235.9L480.1 240.7L475.5 235.9Z" fill="#000080" stroke="#000" stroke-width=".7"/>
<path d="M490.1 229.9V254.0M487.3 229.9h5.6M487.3 254.0h5.6" stroke="#5050d8" stroke-width="1.1"/>
<path d="M490.1 237.1L494.7 241.9L490.1 246.7L485.5 241.9Z" fill="#000080" stroke="#000" stroke-width=".7"/>
<path d="M505.2 210.0V257.6M502.4 210.0h5.6M502.4 257.6h5.6" stroke="#5050d8" stroke-width="1.1"/>
<path d="M505.2 229.0L509.8 233.8L505.2 238.6L500.6 233.8Z" fill="#000080" stroke="#000" stroke-width=".7"/>
<path d="M510.4 200.1V231.8M507.6 200.1h5.6M507.6 231.8h5.6" stroke="#5050d8" stroke-width="1.1"/>
<path d="M510.4 211.2L515.0 216.0L510.4 220.8L505.8 216.0Z" fill="#000080" stroke="#000" stroke-width=".7"/>
<path d="M524.7 191.4V232.1M521.9 191.4h5.6M521.9 232.1h5.6" stroke="#5050d8" stroke-width="1.1"/>
<path d="M524.7 206.9L529.3 211.7L524.7 216.5L520.1 211.7Z" fill="#000080" stroke="#000" stroke-width=".7"/>
<path d="M527.8 208.7V248.5M525.0 208.7h5.6M525.0 248.5h5.6" stroke="#5050d8" stroke-width="1.1"/>
<path d="M527.8 223.8L532.4 228.6L527.8 233.4L523.2 228.6Z" fill="#000080" stroke="#000" stroke-width=".7"/>
<path d="M545.8 188.9V214.8M543.0 188.9h5.6M543.0 214.8h5.6" stroke="#5050d8" stroke-width="1.1"/>
<path d="M545.8 197.0L550.4 201.8L545.8 206.6L541.2 201.8Z" fill="#000080" stroke="#000" stroke-width=".7"/>
<path d="M561.8 155.8V183.3M559.0 155.8h5.6M559.0 183.3h5.6" stroke="#5050d8" stroke-width="1.1"/>
<path d="M561.8 164.8L566.4 169.6L561.8 174.4L557.2 169.6Z" fill="#000080" stroke="#000" stroke-width=".7"/>
<path d="M573.2 141.6V168.8M570.4 141.6h5.6M570.4 168.8h5.6" stroke="#5050d8" stroke-width="1.1"/>
<path d="M573.2 150.4L577.8 155.2L573.2 160.0L568.6 155.2Z" fill="#000080" stroke="#000" stroke-width=".7"/>
<rect x="114.3" y="158.2" width="13" height="13" fill="none" stroke="#5050ff" stroke-width="1"/>
<circle cx="140.3" cy="164.2" r="7" fill="none" stroke="#5050ff" stroke-width="1"/>
<circle cx="409.5" cy="195.5" r="7" fill="none" stroke="#008000" stroke-width="1"/>
<rect x="240.8" y="241.9" width="13" height="13" fill="none" stroke="#008000" stroke-width="1"/>
<rect x="425.5" y="202.4" width="13" height="13" fill="none" stroke="#008000" stroke-width="1"/>
<rect x="442.6" y="212.8" width="13" height="13" fill="none" stroke="#008000" stroke-width="1"/>
<rect x="554.4" y="165.1" width="13" height="13" fill="none" stroke="#a02020" stroke-width="1"/>
<rect x="456.0" y="225.8" width="13" height="13" fill="none" stroke="#a02020" stroke-width="1"/>
<circle cx="147.2" cy="173.2" r="7" fill="none" stroke="#a02020" stroke-width="1"/>
<circle cx="570.1" cy="163.6" r="7" fill="none" stroke="#a02020" stroke-width="1"/>
<rect x="419.1" y="205.1" width="13" height="13" fill="none" stroke="#8040c0" stroke-width="1"/>
<rect x="290.6" y="225.6" width="13" height="13" fill="none" stroke="#5050ff" stroke-width="1"/>
<rect x="339.5" y="188.8" width="13" height="13" fill="none" stroke="#a02020" stroke-width="1"/>
<rect x="300.1" y="214.8" width="13" height="13" fill="none" stroke="#008000" stroke-width="1"/>
<rect x="494.6" y="227.4" width="13" height="13" fill="none" stroke="#008000" stroke-width="1"/>
<circle cx="456.3" cy="228.6" r="7" fill="none" stroke="#0000ff" stroke-width="1"/>
<circle cx="476.0" cy="242.8" r="7" fill="none" stroke="#008000" stroke-width="1"/>
<rect x="450.9" y="231.4" width="13" height="13" fill="none" stroke="#008000" stroke-width="1"/>
<rect x="340.2" y="191.2" width="13" height="13" fill="none" stroke="#8040c0" stroke-width="1"/>
<rect x="191.2" y="188.6" width="13" height="13" fill="none" stroke="#5050ff" stroke-width="1"/>
<circle cx="110.0" cy="178.6" r="7" fill="none" stroke="#8040c0" stroke-width="1"/>
<rect x="486.6" y="229.2" width="13" height="13" fill="none" stroke="#0000ff" stroke-width="1"/>
<rect x="345.1" y="166.9" width="13" height="13" fill="none" stroke="#008000" stroke-width="1"/>
<circle cx="391.9" cy="199.8" r="7" fill="none" stroke="#0000ff" stroke-width="1"/>
<rect x="306.9" y="211.1" width="13" height="13" fill="none" stroke="#0000ff" stroke-width="1"/>
<rect x="432.5" y="207.2" width="13" height="13" fill="none" stroke="#5050ff" stroke-width="1"/></g>
<rect x="67" y="5" width="561" height="401" fill="none" stroke="#1e1e1e" stroke-width="2"/>
<path d="M121.8 406V398M121.8 5V13" stroke="#333" stroke-width="1.5"/>
<text x="107.2" y="422.7" font-size="16" textLength="29.2" lengthAdjust="spacingAndGlyphs" stroke="#000" stroke-width=".2">0.00</text>
<path d="M166.9 406V398M166.9 5V13" stroke="#333" stroke-width="1.5"/>
<text x="152.3" y="422.7" font-size="16" textLength="29.2" lengthAdjust="spacingAndGlyphs" stroke="#000" stroke-width=".2">0.10</text>
<path d="M212.1 406V398M212.1 5V13" stroke="#333" stroke-width="1.5"/>
<text x="197.5" y="422.7" font-size="16" textLength="29.2" lengthAdjust="spacingAndGlyphs" stroke="#000" stroke-width=".2">0.20</text>
<path d="M257.2 406V398M257.2 5V13" stroke="#333" stroke-width="1.5"/>
<text x="242.7" y="422.7" font-size="16" textLength="29.2" lengthAdjust="spacingAndGlyphs" stroke="#000" stroke-width=".2">0.30</text>
<path d="M302.4 406V398M302.4 5V13" stroke="#333" stroke-width="1.5"/>
<text x="287.8" y="422.7" font-size="16" textLength="29.2" lengthAdjust="spacingAndGlyphs" stroke="#000" stroke-width=".2">0.40</text>
<path d="M347.6 406V398M347.6 5V13" stroke="#333" stroke-width="1.5"/>
<text x="332.9" y="422.7" font-size="16" textLength="29.2" lengthAdjust="spacingAndGlyphs" stroke="#000" stroke-width=".2">0.50</text>
<path d="M392.7 406V398M392.7 5V13" stroke="#333" stroke-width="1.5"/>
<text x="378.1" y="422.7" font-size="16" textLength="29.2" lengthAdjust="spacingAndGlyphs" stroke="#000" stroke-width=".2">0.60</text>
<path d="M437.9 406V398M437.9 5V13" stroke="#333" stroke-width="1.5"/>
<text x="423.2" y="422.7" font-size="16" textLength="29.2" lengthAdjust="spacingAndGlyphs" stroke="#000" stroke-width=".2">0.70</text>
<path d="M483.0 406V398M483.0 5V13" stroke="#333" stroke-width="1.5"/>
<text x="468.4" y="422.7" font-size="16" textLength="29.2" lengthAdjust="spacingAndGlyphs" stroke="#000" stroke-width=".2">0.80</text>
<path d="M528.1 406V398M528.1 5V13" stroke="#333" stroke-width="1.5"/>
<text x="513.5" y="422.7" font-size="16" textLength="29.2" lengthAdjust="spacingAndGlyphs" stroke="#000" stroke-width=".2">0.90</text>
<path d="M573.3 406V398M573.3 5V13" stroke="#333" stroke-width="1.5"/>
<text x="558.7" y="422.7" font-size="16" textLength="29.2" lengthAdjust="spacingAndGlyphs" stroke="#000" stroke-width=".2">1.00</text>
<path d="M67 44.4H75M628 44.4H620" stroke="#333" stroke-width="1.5"/>
<text x="24.4" y="49.1" font-size="16" textLength="37.6" lengthAdjust="spacingAndGlyphs" stroke="#000" stroke-width=".2">14.65</text>
<path d="M67 72.1H75M628 72.1H620" stroke="#333" stroke-width="1.5"/>
<text x="24.4" y="76.8" font-size="16" textLength="37.6" lengthAdjust="spacingAndGlyphs" stroke="#000" stroke-width=".2">14.70</text>
<path d="M67 99.7H75M628 99.7H620" stroke="#333" stroke-width="1.5"/>
<text x="24.4" y="104.4" font-size="16" textLength="37.6" lengthAdjust="spacingAndGlyphs" stroke="#000" stroke-width=".2">14.75</text>
<path d="M67 127.4H75M628 127.4H620" stroke="#333" stroke-width="1.5"/>
<text x="24.4" y="132.1" font-size="16" textLength="37.6" lengthAdjust="spacingAndGlyphs" stroke="#000" stroke-width=".2">14.80</text>
<path d="M67 155.0H75M628 155.0H620" stroke="#333" stroke-width="1.5"/>
<text x="24.4" y="159.7" font-size="16" textLength="37.6" lengthAdjust="spacingAndGlyphs" stroke="#000" stroke-width=".2">14.85</text>
<path d="M67 182.7H75M628 182.7H620" stroke="#333" stroke-width="1.5"/>
<text x="24.4" y="187.3" font-size="16" textLength="37.6" lengthAdjust="spacingAndGlyphs" stroke="#000" stroke-width=".2">14.90</text>
<path d="M67 210.3H75M628 210.3H620" stroke="#333" stroke-width="1.5"/>
<text x="24.4" y="215.0" font-size="16" textLength="37.6" lengthAdjust="spacingAndGlyphs" stroke="#000" stroke-width=".2">14.95</text>
<path d="M67 237.9H75M628 237.9H620" stroke="#333" stroke-width="1.5"/>
<text x="24.4" y="242.6" font-size="16" textLength="37.6" lengthAdjust="spacingAndGlyphs" stroke="#000" stroke-width=".2">15.00</text>
<path d="M67 265.6H75M628 265.6H620" stroke="#333" stroke-width="1.5"/>
<text x="24.4" y="270.3" font-size="16" textLength="37.6" lengthAdjust="spacingAndGlyphs" stroke="#000" stroke-width=".2">15.05</text>
<path d="M67 293.2H75M628 293.2H620" stroke="#333" stroke-width="1.5"/>
<text x="24.4" y="297.9" font-size="16" textLength="37.6" lengthAdjust="spacingAndGlyphs" stroke="#000" stroke-width=".2">15.10</text>
<path d="M67 320.9H75M628 320.9H620" stroke="#333" stroke-width="1.5"/>
<text x="24.4" y="325.6" font-size="16" textLength="37.6" lengthAdjust="spacingAndGlyphs" stroke="#000" stroke-width=".2">15.15</text>
<path d="M67 348.6H75M628 348.6H620" stroke="#333" stroke-width="1.5"/>
<text x="24.4" y="353.3" font-size="16" textLength="37.6" lengthAdjust="spacingAndGlyphs" stroke="#000" stroke-width=".2">15.20</text>
<path d="M67 376.2H75M628 376.2H620" stroke="#333" stroke-width="1.5"/>
<text x="24.4" y="380.9" font-size="16" textLength="37.6" lengthAdjust="spacingAndGlyphs" stroke="#000" stroke-width=".2">15.25</text>
<rect x="439.5" y="294.5" width="80" height="99" fill="#000"/>
<rect x="436.5" y="291.5" width="80" height="99" fill="#fff" stroke="#333" stroke-width="1"/>
<text x="456.3" y="303.7" font-size="12" textLength="58.5" lengthAdjust="spacingAndGlyphs">Year: 2013</text>
<circle cx="447.0" cy="313.0" r="3.20" fill="#800000" stroke="#000" stroke-width=".7"/>
<text x="456.5" y="317.3" font-size="12" textLength="44.5" lengthAdjust="spacingAndGlyphs">1 - 04/23</text>
<path d="M447.0 323.0L450.8 329.7H443.2Z" fill="#008000" stroke="#000" stroke-width=".7"/>
<text x="456.5" y="331.2" font-size="12" textLength="44.5" lengthAdjust="spacingAndGlyphs">2 - 04/23</text>
<path d="M447.0 344.7L450.8 338.0H443.2Z" fill="#000080" stroke="#000" stroke-width=".7"/>
<text x="456.5" y="345.1" font-size="12" textLength="44.5" lengthAdjust="spacingAndGlyphs">3 - 04/24</text>
<path d="M447.0 350.8L450.8 354.7L447.0 358.6L443.2 354.7Z" fill="#800080" stroke="#000" stroke-width=".7"/>
<text x="456.5" y="359.0" font-size="12" textLength="44.5" lengthAdjust="spacingAndGlyphs">4 - 04/24</text>
<path d="M442.1 368.6H451.9M447.0 363.7V373.5" stroke="#008080" stroke-width="2.2"/>
<text x="456.5" y="372.9" font-size="12" textLength="44.5" lengthAdjust="spacingAndGlyphs">5 - 04/25</text>
<rect x="443.2" y="378.5" width="8" height="8" fill="#888" stroke="#000" stroke-width="1.9"/>
<text x="456.5" y="386.8" font-size="12" textLength="44.5" lengthAdjust="spacingAndGlyphs">6 - 04/25</text>
<rect x="529" y="293" width="79" height="98" fill="#000"/>
<rect x="526" y="290" width="79" height="98" fill="#fff" stroke="#333" stroke-width="1"/>
<text x="545.5" y="302.4" font-size="12" textLength="58.5" lengthAdjust="spacingAndGlyphs">Year: 2013</text>
<path d="M530.9 311.5H541.1M536.0 306.4V316.6M531.6 307.1L540.4 315.9M531.6 315.9L540.4 307.1" stroke="#ff0000" stroke-width="1.73" stroke-linecap="round"/>
<text x="545.5" y="315.8" font-size="12" textLength="44.5" lengthAdjust="spacingAndGlyphs">7 - 04/26</text>
<rect x="532.3" y="321.5" width="7.4" height="7.4" fill="#0000ff" stroke="#000" stroke-width=".7"/>
<text x="545.5" y="329.5" font-size="12" textLength="44.5" lengthAdjust="spacingAndGlyphs">8 - 04/26</text>
<circle cx="536.0" cy="338.9" r="3.20" fill="#000000" stroke="#000" stroke-width=".7"/>
<text x="545.5" y="343.2" font-size="12" textLength="44.5" lengthAdjust="spacingAndGlyphs">9 - 04/27</text>
<path d="M536.0 348.7L539.8 355.4H532.2Z" fill="#800000" stroke="#000" stroke-width=".7"/>
<text x="545.5" y="356.9" font-size="12" textLength="52.0" lengthAdjust="spacingAndGlyphs">10 - 04/27</text>
<path d="M536.0 370.2L539.8 363.5H532.2Z" fill="#008000" stroke="#000" stroke-width=".7"/>
<text x="545.5" y="370.6" font-size="12" textLength="52.0" lengthAdjust="spacingAndGlyphs">11 - 04/28</text>
<path d="M536.0 376.1L539.8 380.0L536.0 383.9L532.2 380.0Z" fill="#000080" stroke="#000" stroke-width=".7"/>
<text x="545.5" y="384.3" font-size="12" textLength="52.0" lengthAdjust="spacingAndGlyphs">12 - 04/28</text>
<text x="237.0" y="41.4" font-size="23.5" textLength="60.6" lengthAdjust="spacingAndGlyphs" stroke="#000" stroke-width=".35">4765</text>
<text x="306.2" y="41.4" font-size="23.5" textLength="150.3" lengthAdjust="spacingAndGlyphs" stroke="#000" stroke-width=".35">Wasserburg</text>
<text x="244.9" y="65.5" font-size="16.3" textLength="206.2" lengthAdjust="spacingAndGlyphs" stroke="#000" stroke-width=".2">Period: 3.6231 ± 0.0005 h</text>
<text x="276.5" y="87.8" font-size="16.3" textLength="141" lengthAdjust="spacingAndGlyphs" stroke="#000" stroke-width=".2">Primary Rotation</text>
<text x="83.1" y="390.9" font-size="16.5" textLength="85.8" lengthAdjust="spacingAndGlyphs" stroke="#000" stroke-width=".2">JDo(LTC):</text>
<text x="172.2" y="390.9" font-size="16.5" textLength="129.2" lengthAdjust="spacingAndGlyphs" stroke="#000" stroke-width=".2">2456405.635819</text>
<text transform="translate(15.3 338.4) rotate(-90)" x="0" y="0" font-size="14.8" textLength="261.8" stroke="#000" stroke-width=".2" lengthAdjust="spacingAndGlyphs">Reduced Magnitude(V) alpha(20.2°)</text>
</svg>
</body></html>
